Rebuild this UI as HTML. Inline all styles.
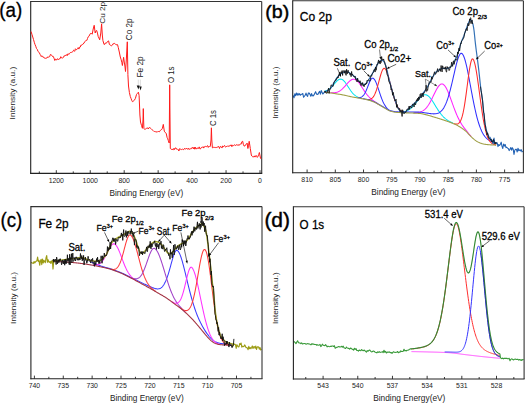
<!DOCTYPE html>
<html><head><meta charset="utf-8"><style>
html,body{margin:0;padding:0;background:#fff;}
body{width:525px;height:403px;overflow:hidden;}
svg{display:block;font-family:"Liberation Sans",sans-serif;}
</style></head><body>
<svg width="525" height="403" viewBox="0 0 525 403">
<rect width="525" height="403" fill="#fff"/>
<line x1="30.7" y1="1.5" x2="261.7" y2="1.5" stroke="#333" stroke-width="1.1" stroke-linecap="butt"/>
<line x1="261.7" y1="1.5" x2="261.7" y2="173.4" stroke="#333" stroke-width="1.1" stroke-linecap="butt"/>
<line x1="30.7" y1="1" x2="30.7" y2="173.9" stroke="#222" stroke-width="1.1" stroke-linecap="butt"/>
<line x1="30.2" y1="173.4" x2="262.2" y2="173.4" stroke="#222" stroke-width="1.1" stroke-linecap="butt"/>
<line x1="260" y1="173.4" x2="260" y2="170.2" stroke="#222" stroke-width="0.9" stroke-linecap="butt"/>
<line x1="226.05" y1="173.4" x2="226.05" y2="170.2" stroke="#222" stroke-width="0.9" stroke-linecap="butt"/>
<line x1="192.1" y1="173.4" x2="192.1" y2="170.2" stroke="#222" stroke-width="0.9" stroke-linecap="butt"/>
<line x1="158.15" y1="173.4" x2="158.15" y2="170.2" stroke="#222" stroke-width="0.9" stroke-linecap="butt"/>
<line x1="124.2" y1="173.4" x2="124.2" y2="170.2" stroke="#222" stroke-width="0.9" stroke-linecap="butt"/>
<line x1="90.25" y1="173.4" x2="90.25" y2="170.2" stroke="#222" stroke-width="0.9" stroke-linecap="butt"/>
<line x1="56.3" y1="173.4" x2="56.3" y2="170.2" stroke="#222" stroke-width="0.9" stroke-linecap="butt"/>
<line x1="243.03" y1="173.4" x2="243.03" y2="171.4" stroke="#222" stroke-width="0.9" stroke-linecap="butt"/>
<line x1="209.07" y1="173.4" x2="209.07" y2="171.4" stroke="#222" stroke-width="0.9" stroke-linecap="butt"/>
<line x1="175.12" y1="173.4" x2="175.12" y2="171.4" stroke="#222" stroke-width="0.9" stroke-linecap="butt"/>
<line x1="141.18" y1="173.4" x2="141.18" y2="171.4" stroke="#222" stroke-width="0.9" stroke-linecap="butt"/>
<line x1="107.22" y1="173.4" x2="107.22" y2="171.4" stroke="#222" stroke-width="0.9" stroke-linecap="butt"/>
<line x1="73.27" y1="173.4" x2="73.27" y2="171.4" stroke="#222" stroke-width="0.9" stroke-linecap="butt"/>
<line x1="39.32" y1="173.4" x2="39.32" y2="171.4" stroke="#222" stroke-width="0.9" stroke-linecap="butt"/>
<text x="260" y="182.7" font-size="6.9" text-anchor="middle" fill="#222">0</text>
<text x="226.05" y="182.7" font-size="6.9" text-anchor="middle" fill="#222">200</text>
<text x="192.1" y="182.7" font-size="6.9" text-anchor="middle" fill="#222">400</text>
<text x="158.15" y="182.7" font-size="6.9" text-anchor="middle" fill="#222">600</text>
<text x="124.2" y="182.7" font-size="6.9" text-anchor="middle" fill="#222">800</text>
<text x="90.25" y="182.7" font-size="6.9" text-anchor="middle" fill="#222">1000</text>
<text x="56.3" y="182.7" font-size="6.9" text-anchor="middle" fill="#222">1200</text>
<text x="109.4" y="195.8" font-size="9.2" textLength="73.8" lengthAdjust="spacingAndGlyphs" fill="#222">Binding Energy (eV)</text>
<text transform="translate(14.9,119.4) rotate(-90)" font-size="7.8" textLength="52.6" lengthAdjust="spacingAndGlyphs" fill="#222">Intensity (a.u.)</text>
<text x="-0.7" y="17.1" font-size="19.7" stroke="#000" stroke-width="0.3" textLength="23" lengthAdjust="spacingAndGlyphs" fill="#000">(a)</text>
<path d="M31,31.5 L32,34.5 L32.75,37 L33.5,39.5 L34.25,42.22 L35,44.5 L35.75,46.29 L36.5,48.5 L37.25,49.33 L38,51.5 L38.67,52.09 L39.33,52.62 L40,54.3 L40.62,54.97 L41.25,56.56 L41.88,55.81 L42.5,56.8 L43.3,56.77 L44.1,58.03 L44.9,58.1 L45.6,58.33 L46.3,58.11 L47,58 L47.67,56.9 L48.33,57.18 L49,56.8 L49.7,56.65 L50.4,54.46 L51.1,54.8 L51.8,55.31 L52.5,56.5 L53.27,56.41 L54.03,58.2 L54.8,60.5 L55.53,58.89 L56.27,59.86 L57,59.8 L57.6,58.65 L58.2,59.6 L58.8,59.32 L59.4,58.86 L60,58.8 L60.77,56.68 L61.53,57.93 L62.3,58.1 L62.92,57.65 L63.53,57.35 L64.15,55.7 L64.77,56.08 L65.38,55.28 L66,55.6 L66.62,54.61 L67.23,55.63 L67.85,53.84 L68.47,54.04 L69.08,54.35 L69.7,53.3 L70.36,52.5 L71.02,52.5 L71.68,52.3 L72.34,51.91 L73,51.5 L73.6,50.18 L74.2,50.76 L74.8,51.32 L75.4,48.74 L76,49.5 L76.72,49.66 L77.44,48.63 L78.16,47.58 L78.88,49.08 L79.6,47.1 L80.32,47.02 L81.05,44.9 L81.78,45.21 L82.5,44.5 L83.12,44.18 L83.75,42.86 L84.38,42.76 L85,41.5 L85.62,40.7 L86.25,40.5 L86.88,40.33 L87.5,38.5 L88.2,36.83 L88.9,36.32 L89.6,35 L90.3,33.65 L91,33 L91.6,33.7 L92.2,34.2 L93.2,29 L94.2,25.3 L95.2,33 L95.95,30.86 L96.7,30.5 L97.45,33.07 L98.2,36.5 L98.95,38 L99.7,39.8 L100.8,33 L101.6,23.8 L102.3,35 L102.9,40.5 L104.1,44.5 L104.7,44.42 L105.3,43 L106.4,43.2 L107.5,41.5 L108.6,40.9 L109.4,44.5 L110.5,45 L111.4,45.96 L112.3,45.2 L113.15,43.61 L114,44 L114.65,43.35 L115.3,43.9 L116.05,44.79 L116.8,44.7 L117.55,44.66 L118.3,47.6 L119.3,52 L120.3,57 L121.2,59.8 L121.8,62.3 L122.4,65.5 L123.6,57.3 L124.4,63 L124.9,66 L125.5,71.5 L126.3,60 L127.3,41.8 L127.9,74.7 L128.5,86 L129.4,92.5 L130.3,96.5 L131,98.33 L131.7,100.3 L132.45,101.69 L133.2,101.2 L134.3,100.3 L135.4,98.4 L136.5,94.5 L137.3,93.5 L138.4,92.2 L139.1,95.5 L139.5,105 L139.9,115 L140.5,122 L141.5,125.5 L142.4,128.3 L143,120 L143.3,108.6 L143.6,120 L143.9,128.3 L144.55,129.32 L145.2,129.3 L145.8,128.72 L146.4,128.36 L147,128.3 L147.67,127.88 L148.33,128.98 L149,127.6 L149.67,127.61 L150.33,128.04 L151,128.6 L151.75,129.56 L152.5,130 L153.15,130.56 L153.8,131.3 L154.55,131.5 L155.3,132 L156,131.31 L156.7,132.3 L157.3,132.02 L157.9,131.43 L158.5,131.5 L159.17,131.97 L159.83,131.19 L160.5,130.3 L161.13,129.62 L161.77,129.47 L162.4,128.3 L163.3,124.4 L164.3,131.2 L165.2,132.5 L166.2,133.3 L167.1,137.5 L167.7,138.75 L168.3,140.5 L169.2,143 L169.7,84.8 L170.3,148.5 L171.5,149.2 L172.11,150.01 L172.72,149.24 L173.33,149.7 L173.94,148.31 L174.55,149.56 L175.16,148.05 L175.77,147.81 L176.38,149.13 L176.99,148.71 L177.6,149.4 L178.23,149.5 L178.87,151.03 L179.5,148.7 L180.13,148.83 L180.77,149.42 L181.4,149.61 L182.03,149.08 L182.67,149.03 L183.3,149.69 L183.93,149.52 L184.57,148.33 L185.2,149.02 L185.83,149.08 L186.47,148.24 L187.1,149 L187.74,149.16 L188.38,148.29 L189.02,149.63 L189.66,149.01 L190.3,148.9 L190.94,148.36 L191.58,148.68 L192.22,147.24 L192.86,147.85 L193.5,148.94 L194.14,147.04 L194.78,149.23 L195.42,147.26 L196.06,149.1 L196.7,148.5 L197.33,147.75 L197.97,148.86 L198.6,148.26 L199.23,146.89 L199.87,148.87 L200.5,148.9 L201.13,147.66 L201.77,147.39 L202.4,147.36 L203.03,146.64 L203.67,148.08 L204.3,146.73 L204.93,146.99 L205.57,146.32 L206.2,146.8 L206.88,146.23 L207.57,145.64 L208.25,147.44 L208.93,146.28 L209.62,147.02 L210.3,146.2 L211,140 L211.4,127.8 L211.8,140 L212.4,147.8 L213.06,147.77 L213.72,147.2 L214.38,147.43 L215.04,147.22 L215.7,147.6 L216.33,147.55 L216.97,147.2 L217.6,147.2 L218.23,146.33 L218.87,146.69 L219.5,148.48 L220.13,146.68 L220.77,146.33 L221.4,147.31 L222.03,148.06 L222.67,145.85 L223.3,146.72 L223.93,146.35 L224.57,145.44 L225.2,146.7 L225.8,147.16 L226.4,146.51 L227,146.49 L227.6,145.79 L228.2,146.6 L228.8,145.77 L229.4,145.98 L230,146 L230.62,145.07 L231.24,144.89 L231.86,146.7 L232.49,145.22 L233.11,145.72 L233.73,145.37 L234.35,144.97 L234.97,144.82 L235.59,145.57 L236.21,144.77 L236.84,144.79 L237.46,144.82 L238.08,145.58 L238.7,144.6 L239.3,145.01 L239.9,144.69 L240.5,143.88 L241.1,144.2 L241.9,141.71 L242.7,141.3 L243.3,144.26 L243.9,145.8 L244.6,146.16 L245.3,144.96 L246,144.7 L247.1,143.1 L247.9,148.5 L248.55,145.31 L249.2,141.3 L250.3,148.5 L251.3,155 L251.93,156.12 L252.57,156.69 L253.2,156.6 L253.8,157.09 L254.4,155.86 L255,157.14 L255.6,155.8 L256.45,155.67 L257.3,157.4 L258,156.41 L258.7,154.5 L259.4,152.5 L260.5,158.2 L261.3,159" fill="none" stroke="#ff1a1a" stroke-width="1.0" stroke-linejoin="round"/>
<text transform="translate(104.9,23.8) rotate(-90)" font-size="7.8" textLength="22" lengthAdjust="spacingAndGlyphs" fill="#222">Cu 2p</text>
<text transform="translate(131.8,40.2) rotate(-90)" font-size="9" textLength="21.6" lengthAdjust="spacingAndGlyphs" fill="#222">Co 2p</text>
<text transform="translate(142.7,77.5) rotate(-90)" font-size="8.6" textLength="21.2" lengthAdjust="spacingAndGlyphs" fill="#222">Fe 2p</text>
<text transform="translate(174,83.1) rotate(-90)" font-size="8.8" textLength="16.6" lengthAdjust="spacingAndGlyphs" fill="#222">O 1s</text>
<text transform="translate(215.9,126.1) rotate(-90)" font-size="9" textLength="16" lengthAdjust="spacingAndGlyphs" fill="#222">C 1s</text>
<line x1="138.3" y1="79.6" x2="138.3" y2="86" stroke="#bbb" stroke-width="0.5" stroke-linecap="butt"/>
<line x1="140.4" y1="79.6" x2="140.4" y2="86.8" stroke="#bbb" stroke-width="0.5" stroke-linecap="butt"/>
<path d="M136.7,85.5 L139.6,85.5 L138.4,89.6 Z M139.2,86.4 L141.7,86.4 L140.6,90.4 Z" fill="#111"/>
<path d="M324.6,91.07 L325.1,90.98 L325.6,90.86 L326.1,90.71 L326.6,90.54 L327.1,90.34 L327.6,90.11 L328.1,89.84 L328.6,89.54 L329.1,89.2 L329.6,88.83 L330.1,88.42 L330.6,87.98 L331.1,87.51 L331.6,87.01 L332.1,86.48 L332.6,85.92 L333.1,85.35 L333.6,84.77 L334.1,84.18 L334.6,83.59 L335.1,83 L335.6,82.43 L336.1,81.88 L336.6,81.36 L337.1,80.87 L337.6,80.44 L338.1,80.05 L338.6,79.73 L339.1,79.47 L339.6,79.28 L340.1,79.17 L340.6,79.13 L341.1,79.18 L341.6,79.3 L342.1,79.51 L342.6,79.8 L343.1,80.16 L343.6,80.6 L344.1,81.1 L344.6,81.67 L345.1,82.29 L345.6,82.96 L346.1,83.68 L346.6,84.42 L347.1,85.18 L347.6,85.96 L348.1,86.75 L348.6,87.54 L349.1,88.31 L349.6,89.08 L350.1,89.82 L350.6,90.54 L351.1,91.22 L351.6,91.88 L352.1,92.5 L352.6,93.07 L353.1,93.62 L353.6,94.12 L354.1,94.59 L354.6,95.02 L355.1,95.41 L355.6,95.78 L356.1,96.11 L356.6,96.41 L357.1,96.69 L357.6,96.94 L358.1,97.18 L358.6,97.39 L359.1,97.59 L359.6,97.77 L360.1,97.95 L360.6,98.11 L361.1,98.26" fill="none" stroke="#00e4f0" stroke-width="1.05" stroke-linejoin="round"/>
<path d="M330.6,92.7 L331.1,92.74 L331.6,92.76 L332.1,92.78 L332.6,92.79 L333.1,92.78 L333.6,92.77 L334.1,92.73 L334.6,92.69 L335.1,92.62 L335.6,92.54 L336.1,92.43 L336.6,92.31 L337.1,92.16 L337.6,91.98 L338.1,91.78 L338.6,91.55 L339.1,91.29 L339.6,91 L340.1,90.69 L340.6,90.34 L341.1,89.96 L341.6,89.56 L342.1,89.12 L342.6,88.66 L343.1,88.17 L343.6,87.66 L344.1,87.13 L344.6,86.59 L345.1,86.03 L345.6,85.47 L346.1,84.9 L346.6,84.32 L347.1,83.76 L347.6,83.2 L348.1,82.66 L348.6,82.13 L349.1,81.64 L349.6,81.17 L350.1,80.74 L350.6,80.35 L351.1,80.02 L351.6,79.73 L352.1,79.49 L352.6,79.32 L353.1,79.21 L353.6,79.17 L354.1,79.19 L354.6,79.28 L355.1,79.45 L355.6,79.68 L356.1,79.98 L356.6,80.34 L357.1,80.77 L357.6,81.26 L358.1,81.8 L358.6,82.39 L359.1,83.03 L359.6,83.71 L360.1,84.42 L360.6,85.16 L361.1,85.91 L361.6,86.69 L362.1,87.47 L362.6,88.26 L363.1,89.04 L363.6,89.82 L364.1,90.59 L364.6,91.34 L365.1,92.07 L365.6,92.78 L366.1,93.47 L366.6,94.13 L367.1,94.76 L367.6,95.36 L368.1,95.94 L368.6,96.49 L369.1,97.01 L369.6,97.51 L370.1,97.99 L370.6,98.44 L371.1,98.88 L371.6,99.31 L372.1,99.72 L372.6,100.12 L373.1,100.51 L373.6,100.88 L374.1,101.25 L374.6,101.6 L375.1,101.94 L375.6,102.28 L376.1,102.63 L376.6,102.98 L377.1,103.33 L377.6,103.67 L378.1,104.02" fill="none" stroke="#ff22ff" stroke-width="1.05" stroke-linejoin="round"/>
<path d="M357.6,97.68 L358.1,97.7 L358.6,97.69 L359.1,97.66 L359.6,97.6 L360.1,97.51 L360.6,97.37 L361.1,97.18 L361.6,96.92 L362.1,96.6 L362.6,96.19 L363.1,95.71 L363.6,95.12 L364.1,94.44 L364.6,93.66 L365.1,92.78 L365.6,91.8 L366.1,90.72 L366.6,89.56 L367.1,88.34 L367.6,87.07 L368.1,85.78 L368.6,84.49 L369.1,83.24 L369.6,82.06 L370.1,80.98 L370.6,80.03 L371.1,79.25 L371.6,78.67 L372.1,78.29 L372.6,78.15 L373.1,78.24 L373.6,78.55 L374.1,79.03 L374.6,79.69 L375.1,80.51 L375.6,81.49 L376.1,82.62 L376.6,83.87 L377.1,85.22 L377.6,86.66 L378.1,88.14 L378.6,89.66 L379.1,91.18 L379.6,92.69 L380.1,94.18 L380.6,95.63 L381.1,97.04 L381.6,98.38 L382.1,99.65 L382.6,100.85 L383.1,101.97 L383.6,103 L384.1,103.96 L384.6,104.83 L385.1,105.64 L385.6,106.4 L386.1,107.09 L386.6,107.73 L387.1,108.32 L387.6,108.85 L388.1,109.32 L388.6,109.74 L389.1,110.11 L389.6,110.43 L390.1,110.69 L390.6,110.92" fill="none" stroke="#3030ff" stroke-width="1.05" stroke-linejoin="round"/>
<path d="M366.6,99.46 L367.1,99.5 L367.6,99.54 L368.1,99.55 L368.6,99.53 L369.1,99.49 L369.6,99.41 L370.1,99.28 L370.6,99.11 L371.1,98.87 L371.6,98.57 L372.1,98.18 L372.6,97.7 L373.1,97.12 L373.6,96.42 L374.1,95.59 L374.6,94.64 L375.1,93.54 L375.6,92.31 L376.1,90.96 L376.6,89.49 L377.1,87.9 L377.6,86.21 L378.1,84.43 L378.6,82.59 L379.1,80.72 L379.6,78.84 L380.1,77 L380.6,75.25 L381.1,73.61 L381.6,72.14 L382.1,70.86 L382.6,69.81 L383.1,69.03 L383.6,68.53 L384.1,68.34 L384.6,68.46 L385.1,68.86 L385.6,69.49 L386.1,70.35 L386.6,71.42 L387.1,72.68 L387.6,74.11 L388.1,75.68 L388.6,77.38 L389.1,79.18 L389.6,81.04 L390.1,82.94 L390.6,84.88 L391.1,86.83 L391.6,88.78 L392.1,90.71 L392.6,92.6 L393.1,94.43 L393.6,96.19 L394.1,97.86 L394.6,99.44 L395.1,100.91 L395.6,102.28 L396.1,103.53 L396.6,104.68 L397.1,105.72 L397.6,106.66 L398.1,107.51 L398.6,108.26 L399.1,108.93 L399.6,109.52 L400.1,110.03 L400.6,110.48 L401.1,110.86 L401.6,111.2 L402.1,111.48 L402.6,111.73 L403.1,111.93 L403.6,112.11 L404.1,112.25 L404.6,112.37 L405.1,112.48 L405.6,112.56 L406.1,112.63" fill="none" stroke="#ff2a2a" stroke-width="1.05" stroke-linejoin="round"/>
<path d="M399.1,112.32 L399.6,112.31 L400.1,112.29 L400.6,112.26 L401.1,112.22 L401.6,112.18 L402.1,112.12 L402.6,112.05 L403.1,111.97 L403.6,111.88 L404.1,111.77 L404.6,111.64 L405.1,111.5 L405.6,111.33 L406.1,111.15 L406.6,110.95 L407.1,110.72 L407.6,110.47 L408.1,110.2 L408.6,109.9 L409.1,109.58 L409.6,109.24 L410.1,108.86 L410.6,108.46 L411.1,108.04 L411.6,107.59 L412.1,107.11 L412.6,106.6 L413.1,106.07 L413.6,105.52 L414.1,104.94 L414.6,104.35 L415.1,103.74 L415.6,103.12 L416.1,102.49 L416.6,101.85 L417.1,101.21 L417.6,100.57 L418.1,99.94 L418.6,99.32 L419.1,98.71 L419.6,98.13 L420.1,97.57 L420.6,97.05 L421.1,96.58 L421.6,96.15 L422.1,95.78 L422.6,95.46 L423.1,95.2 L423.6,94.99 L424.1,94.84 L424.6,94.76 L425.1,94.74 L425.6,94.77 L426.1,94.87 L426.6,95.03 L427.1,95.25 L427.6,95.53 L428.1,95.87 L428.6,96.27 L429.1,96.73 L429.6,97.25 L430.1,97.81 L430.6,98.43 L431.1,99.09 L431.6,99.78 L432.1,100.51 L432.6,101.27 L433.1,102.05 L433.6,102.84 L434.1,103.65 L434.6,104.47 L435.1,105.3 L435.6,106.12 L436.1,106.93 L436.6,107.74 L437.1,108.54 L437.6,109.33 L438.1,110.1 L438.6,110.85 L439.1,111.57 L439.6,112.28 L440.1,112.96 L440.6,113.62 L441.1,114.25 L441.6,114.85 L442.1,115.43 L442.6,115.99 L443.1,116.51 L443.6,117.02 L444.1,117.5 L444.6,117.95 L445.1,118.39 L445.6,118.8 L446.1,119.19 L446.6,119.56 L447.1,119.92 L447.6,120.25 L448.1,120.57 L448.6,120.88 L449.1,121.17 L449.6,121.46 L450.1,121.73 L450.6,122 L451.1,122.26 L451.6,122.51 L452.1,122.76 L452.6,123.01 L453.1,123.25" fill="none" stroke="#00e4f0" stroke-width="1.05" stroke-linejoin="round"/>
<path d="M414.1,112.89 L414.6,112.87 L415.1,112.84 L415.6,112.8 L416.1,112.76 L416.6,112.7 L417.1,112.64 L417.6,112.56 L418.1,112.47 L418.6,112.37 L419.1,112.24 L419.6,112.1 L420.1,111.94 L420.6,111.77 L421.1,111.58 L421.6,111.37 L422.1,111.14 L422.6,110.89 L423.1,110.61 L423.6,110.3 L424.1,109.95 L424.6,109.56 L425.1,109.13 L425.6,108.66 L426.1,108.13 L426.6,107.56 L427.1,106.94 L427.6,106.27 L428.1,105.55 L428.6,104.79 L429.1,103.99 L429.6,103.15 L430.1,102.27 L430.6,101.35 L431.1,100.4 L431.6,99.42 L432.1,98.41 L432.6,97.39 L433.1,96.35 L433.6,95.31 L434.1,94.27 L434.6,93.23 L435.1,92.21 L435.6,91.21 L436.1,90.24 L436.6,89.31 L437.1,88.44 L437.6,87.62 L438.1,86.86 L438.6,86.18 L439.1,85.58 L439.6,85.07 L440.1,84.65 L440.6,84.32 L441.1,84.1 L441.6,83.99 L442.1,83.99 L442.6,84.1 L443.1,84.31 L443.6,84.64 L444.1,85.08 L444.6,85.63 L445.1,86.28 L445.6,87.03 L446.1,87.87 L446.6,88.8 L447.1,89.81 L447.6,90.89 L448.1,92.04 L448.6,93.24 L449.1,94.5 L449.6,95.8 L450.1,97.14 L450.6,98.5 L451.1,99.88 L451.6,101.27 L452.1,102.67 L452.6,104.06 L453.1,105.44 L453.6,106.81 L454.1,108.16 L454.6,109.48 L455.1,110.77 L455.6,112.03 L456.1,113.26 L456.6,114.45 L457.1,115.6 L457.6,116.72 L458.1,117.79 L458.6,118.83 L459.1,119.82 L459.6,120.77 L460.1,121.68 L460.6,122.55 L461.1,123.38 L461.6,124.18 L462.1,124.95 L462.6,125.69 L463.1,126.4 L463.6,127.08 L464.1,127.75 L464.6,128.4 L465.1,129.03 L465.6,129.65 L466.1,130.27 L466.6,130.91 L467.1,131.56 L467.6,132.21 L468.1,132.86 L468.6,133.5 L469.1,134.12 L469.6,134.71 L470.1,135.26 L470.6,135.8 L471.1,136.34" fill="none" stroke="#ff22ff" stroke-width="1.05" stroke-linejoin="round"/>
<path d="M362.6,98.55 L363.1,98.65 L363.6,98.75 L364.1,98.85 L364.6,98.95 L365.1,99.06 L365.6,99.17 L366.1,99.28 L366.6,99.38 L367.1,99.49 L367.6,99.61 L368.1,99.72 L368.6,99.85 L369.1,99.97 L369.6,100.11 L370.1,100.25 L370.6,100.4 L371.1,100.57 L371.6,100.74 L372.1,100.93 L372.6,101.13 L373.1,101.33 L373.6,101.55 L374.1,101.77 L374.6,101.99 L375.1,102.22 L375.6,102.47 L376.1,102.73 L376.6,103.01 L377.1,103.3 L377.6,103.59 L378.1,103.88 L378.6,104.18 L379.1,104.47 L379.6,104.76 L380.1,105.05 L380.6,105.34 L381.1,105.63 L381.6,105.92 L382.1,106.22 L382.6,106.51 L383.1,106.8 L383.6,107.09 L384.1,107.37 L384.6,107.65 L385.1,107.94 L385.6,108.23 L386.1,108.53 L386.6,108.83 L387.1,109.12 L387.6,109.41 L388.1,109.68 L388.6,109.93 L389.1,110.16 L389.6,110.36 L390.1,110.53 L390.6,110.68 L391.1,110.82 L391.6,110.95 L392.1,111.08 L392.6,111.2 L393.1,111.31 L393.6,111.41 L394.1,111.5 L394.6,111.58 L395.1,111.65 L395.6,111.71 L396.1,111.75 L396.6,111.79 L397.1,111.83 L397.6,111.86 L398.1,111.88 L398.6,111.91 L399.1,111.93 L399.6,111.95 L400.1,111.97 L400.6,111.98 L401.1,112 L401.6,112.01 L402.1,112.02 L402.6,112.03 L403.1,112.04 L403.6,112.05 L404.1,112.06 L404.6,112.06 L405.1,112.07 L405.6,112.07 L406.1,112.07 L406.6,112.07 L407.1,112.07 L407.6,112.07 L408.1,112.07 L408.6,112.08 L409.1,112.08 L409.6,112.08 L410.1,112.08 L410.6,112.08 L411.1,112.09 L411.6,112.09 L412.1,112.09 L412.6,112.09 L413.1,112.1 L413.6,112.1 L414.1,112.1 L414.6,112.1 L415.1,112.1 L415.6,112.1 L416.1,112.11 L416.6,112.11 L417.1,112.12 L417.6,112.12 L418.1,112.13 L418.6,112.14 L419.1,112.15 L419.6,112.16 L420.1,112.18 L420.6,112.2 L421.1,112.24 L421.6,112.29 L422.1,112.35 L422.6,112.41 L423.1,112.49 L423.6,112.57 L424.1,112.65 L424.6,112.73 L425.1,112.82 L425.6,112.9 L426.1,112.98 L426.6,113.06 L427.1,113.13 L427.6,113.2 L428.1,113.27 L428.6,113.34 L429.1,113.41 L429.6,113.48 L430.1,113.55 L430.6,113.61 L431.1,113.67 L431.6,113.73 L432.1,113.77 L432.6,113.81 L433.1,113.84 L433.6,113.86 L434.1,113.86 L434.6,113.85 L435.1,113.82 L435.6,113.76 L436.1,113.69 L436.6,113.6 L437.1,113.48 L437.6,113.33 L438.1,113.15 L438.6,112.93 L439.1,112.68 L439.6,112.38 L440.1,112.04 L440.6,111.66 L441.1,111.22 L441.6,110.72 L442.1,110.17 L442.6,109.55 L443.1,108.86 L443.6,108.11 L444.1,107.27 L444.6,106.36 L445.1,105.37 L445.6,104.3 L446.1,103.13 L446.6,101.88 L447.1,100.53 L447.6,99.09 L448.1,97.57 L448.6,95.95 L449.1,94.25 L449.6,92.47 L450.1,90.61 L450.6,88.67 L451.1,86.67 L451.6,84.61 L452.1,82.5 L452.6,80.35 L453.1,78.18 L453.6,75.98 L454.1,73.79 L454.6,71.61 L455.1,69.46 L455.6,67.36 L456.1,65.33 L456.6,63.39 L457.1,61.56 L457.6,59.86 L458.1,58.31 L458.6,56.94 L459.1,55.76 L459.6,54.79 L460.1,54.06 L460.6,53.56 L461.1,53.33 L461.6,53.37 L462.1,53.68 L462.6,54.22 L463.1,55 L463.6,55.99 L464.1,57.21 L464.6,58.63 L465.1,60.24 L465.6,62.04 L466.1,64.01 L466.6,66.16 L467.1,68.45 L467.6,70.88 L468.1,73.4 L468.6,75.99 L469.1,78.64 L469.6,81.31 L470.1,83.98 L470.6,86.67 L471.1,89.36 L471.6,92.05 L472.1,94.71 L472.6,97.33 L473.1,99.91 L473.6,102.42 L474.1,104.87 L474.6,107.23 L475.1,109.5 L475.6,111.69 L476.1,113.8 L476.6,115.83 L477.1,117.76 L477.6,119.6 L478.1,121.35 L478.6,122.99 L479.1,124.53 L479.6,125.97 L480.1,127.34 L480.6,128.63 L481.1,129.83 L481.6,130.95 L482.1,132 L482.6,132.97 L483.1,133.86 L483.6,134.68 L484.1,135.43 L484.6,136.11 L485.1,136.74 L485.6,137.33 L486.1,137.86 L486.6,138.35 L487.1,138.8 L487.6,139.22 L488.1,139.59 L488.6,139.94 L489.1,140.25 L489.6,140.54 L490.1,140.8 L490.6,141.04 L491.1,141.27 L491.6,141.47 L492.1,141.66 L492.6,141.83 L493.1,141.99 L493.6,142.14 L494.1,142.28 L494.6,142.4 L495.1,142.51 L495.6,142.62 L496.1,142.71" fill="none" stroke="#3030ff" stroke-width="1.05" stroke-linejoin="round"/>
<path d="M454.1,123.66 L454.6,123.79 L455.1,123.91 L455.6,124 L456.1,124.05 L456.6,124.06 L457.1,124.02 L457.6,123.9 L458.1,123.7 L458.6,123.4 L459.1,122.97 L459.6,122.4 L460.1,121.67 L460.6,120.75 L461.1,119.62 L461.6,118.26 L462.1,116.66 L462.6,114.79 L463.1,112.66 L463.6,110.24 L464.1,107.55 L464.6,104.58 L465.1,101.37 L465.6,97.93 L466.1,94.32 L466.6,90.58 L467.1,86.77 L467.6,82.95 L468.1,79.17 L468.6,75.5 L469.1,72.01 L469.6,68.78 L470.1,65.87 L470.6,63.38 L471.1,61.39 L471.6,59.94 L472.1,59.09 L472.6,58.86 L473.1,59.24 L473.6,60.07 L474.1,61.3 L474.6,62.92 L475.1,64.89 L475.6,67.22 L476.1,69.87 L476.6,72.81 L477.1,75.99 L477.6,79.37 L478.1,82.9 L478.6,86.54 L479.1,90.25 L479.6,93.98 L480.1,97.72 L480.6,101.41 L481.1,105.04 L481.6,108.55 L482.1,111.94 L482.6,115.16 L483.1,118.22 L483.6,121.08 L484.1,123.73 L484.6,126.19 L485.1,128.46 L485.6,130.53 L486.1,132.4 L486.6,134.1 L487.1,135.61 L487.6,136.96 L488.1,138.15 L488.6,139.2 L489.1,140.11 L489.6,140.9 L490.1,141.59 L490.6,142.18 L491.1,142.68 L491.6,143.11 L492.1,143.47 L492.6,143.78 L493.1,144.04 L493.6,144.25 L494.1,144.43 L494.6,144.58 L495.1,144.69 L495.6,144.79 L496.1,144.87" fill="none" stroke="#ff2a2a" stroke-width="1.05" stroke-linejoin="round"/>
<path d="M324.6,92 L325.1,92.08 L325.6,92.15 L326.1,92.23 L326.6,92.3 L327.1,92.38 L327.6,92.46 L328.1,92.54 L328.6,92.61 L329.1,92.69 L329.6,92.77 L330.1,92.85 L330.6,92.92 L331.1,93 L331.6,93.08 L332.1,93.16 L332.6,93.24 L333.1,93.32 L333.6,93.39 L334.1,93.47 L334.6,93.55 L335.1,93.63 L335.6,93.7 L336.1,93.78 L336.6,93.86 L337.1,93.93 L337.6,94.01 L338.1,94.09 L338.6,94.17 L339.1,94.25 L339.6,94.33 L340.1,94.41 L340.6,94.49 L341.1,94.58 L341.6,94.66 L342.1,94.75 L342.6,94.84 L343.1,94.94 L343.6,95.04 L344.1,95.14 L344.6,95.24 L345.1,95.35 L345.6,95.46 L346.1,95.58 L346.6,95.69 L347.1,95.81 L347.6,95.93 L348.1,96.04 L348.6,96.16 L349.1,96.28 L349.6,96.39 L350.1,96.5 L350.6,96.61 L351.1,96.72 L351.6,96.82 L352.1,96.92 L352.6,97.01 L353.1,97.11 L353.6,97.2 L354.1,97.28 L354.6,97.37 L355.1,97.46 L355.6,97.54 L356.1,97.62 L356.6,97.71 L357.1,97.79 L357.6,97.87 L358.1,97.96 L358.6,98.05 L359.1,98.14 L359.6,98.23 L360.1,98.32 L360.6,98.41 L361.1,98.51 L361.6,98.6 L362.1,98.7 L362.6,98.8 L363.1,98.9 L363.6,99 L364.1,99.11 L364.6,99.21 L365.1,99.32 L365.6,99.43 L366.1,99.54 L366.6,99.65 L367.1,99.76 L367.6,99.88 L368.1,100 L368.6,100.13 L369.1,100.26 L369.6,100.39 L370.1,100.54 L370.6,100.69 L371.1,100.86 L371.6,101.04 L372.1,101.23 L372.6,101.43 L373.1,101.64 L373.6,101.86 L374.1,102.08 L374.6,102.31 L375.1,102.55 L375.6,102.8 L376.1,103.06 L376.6,103.34 L377.1,103.63 L377.6,103.93 L378.1,104.23 L378.6,104.53 L379.1,104.83 L379.6,105.12 L380.1,105.41 L380.6,105.7 L381.1,106 L381.6,106.3 L382.1,106.6 L382.6,106.9 L383.1,107.19 L383.6,107.49 L384.1,107.77 L384.6,108.06 L385.1,108.35 L385.6,108.65 L386.1,108.95 L386.6,109.26 L387.1,109.56 L387.6,109.85 L388.1,110.12 L388.6,110.38 L389.1,110.62 L389.6,110.83 L390.1,111 L390.6,111.15 L391.1,111.3 L391.6,111.44 L392.1,111.58 L392.6,111.7 L393.1,111.82 L393.6,111.93 L394.1,112.03 L394.6,112.11 L395.1,112.19 L395.6,112.26 L396.1,112.31 L396.6,112.36 L397.1,112.4 L397.6,112.44 L398.1,112.48 L398.6,112.51 L399.1,112.54 L399.6,112.57 L400.1,112.6 L400.6,112.62 L401.1,112.64 L401.6,112.67 L402.1,112.69 L402.6,112.71 L403.1,112.73 L403.6,112.75 L404.1,112.77 L404.6,112.79 L405.1,112.81 L405.6,112.82 L406.1,112.84 L406.6,112.85 L407.1,112.87 L407.6,112.88 L408.1,112.9 L408.6,112.91 L409.1,112.93 L409.6,112.95 L410.1,112.96 L410.6,112.98 L411.1,113 L411.6,113.03 L412.1,113.05 L412.6,113.07 L413.1,113.09 L413.6,113.11 L414.1,113.13 L414.6,113.15 L415.1,113.18 L415.6,113.2 L416.1,113.23 L416.6,113.25 L417.1,113.28 L417.6,113.32 L418.1,113.35 L418.6,113.38 L419.1,113.42 L419.6,113.46 L420.1,113.51 L420.6,113.56 L421.1,113.63 L421.6,113.72 L422.1,113.81 L422.6,113.91 L423.1,114.02 L423.6,114.14 L424.1,114.26 L424.6,114.39 L425.1,114.51 L425.6,114.64 L426.1,114.77 L426.6,114.9 L427.1,115.02 L427.6,115.15 L428.1,115.28 L428.6,115.42 L429.1,115.56 L429.6,115.7 L430.1,115.84 L430.6,115.99 L431.1,116.14 L431.6,116.29 L432.1,116.45 L432.6,116.6 L433.1,116.75 L433.6,116.91 L434.1,117.06 L434.6,117.22 L435.1,117.37 L435.6,117.52 L436.1,117.67 L436.6,117.82 L437.1,117.98 L437.6,118.13 L438.1,118.28 L438.6,118.43 L439.1,118.59 L439.6,118.74 L440.1,118.9 L440.6,119.06 L441.1,119.21 L441.6,119.37 L442.1,119.53 L442.6,119.7 L443.1,119.86 L443.6,120.03 L444.1,120.19 L444.6,120.36 L445.1,120.53 L445.6,120.71 L446.1,120.88 L446.6,121.05 L447.1,121.23 L447.6,121.4 L448.1,121.58 L448.6,121.75 L449.1,121.93 L449.6,122.12 L450.1,122.3 L450.6,122.49 L451.1,122.68 L451.6,122.87 L452.1,123.07 L452.6,123.27 L453.1,123.47 L453.6,123.68 L454.1,123.9 L454.6,124.12 L455.1,124.35 L455.6,124.58 L456.1,124.82 L456.6,125.07 L457.1,125.34 L457.6,125.6 L458.1,125.88 L458.6,126.17 L459.1,126.46 L459.6,126.76 L460.1,127.06 L460.6,127.37 L461.1,127.69 L461.6,128.02 L462.1,128.36 L462.6,128.7 L463.1,129.06 L463.6,129.43 L464.1,129.81 L464.6,130.2 L465.1,130.6 L465.6,131.02 L466.1,131.45 L466.6,131.93 L467.1,132.44 L467.6,132.97 L468.1,133.51 L468.6,134.05 L469.1,134.58 L469.6,135.1 L470.1,135.6 L470.6,136.09 L471.1,136.58 L471.6,137.07 L472.1,137.56 L472.6,138.04 L473.1,138.5 L473.6,138.95 L474.1,139.38 L474.6,139.78 L475.1,140.15 L475.6,140.5 L476.1,140.85 L476.6,141.18 L477.1,141.5 L477.6,141.8 L478.1,142.07 L478.6,142.32 L479.1,142.54 L479.6,142.75 L480.1,142.95 L480.6,143.14 L481.1,143.32 L481.6,143.49 L482.1,143.65 L482.6,143.79 L483.1,143.91 L483.6,144.02 L484.1,144.12 L484.6,144.2 L485.1,144.28 L485.6,144.35 L486.1,144.42 L486.6,144.48 L487.1,144.54 L487.6,144.59 L488.1,144.64 L488.6,144.69 L489.1,144.73 L489.6,144.77 L490.1,144.81 L490.6,144.84 L491.1,144.87 L491.6,144.91 L492.1,144.94 L492.6,144.97 L493.1,144.99 L493.6,145.02 L494.1,145.04 L494.6,145.06 L495.1,145.08 L495.6,145.09 L496.1,145.1" fill="none" stroke="#a0a048" stroke-width="1.1" stroke-linejoin="round"/>
<path d="M293.2,95.47 L294,97.79 L294.8,93.83 L295.6,95.8 L296.4,92.95 L297.2,95.19 L298,93.37 L298.8,95.1 L299.6,93.65 L300.4,95.24 L301.2,94.31 L302,94.29 L302.8,93.5 L303.6,97.3 L304.4,96.16 L305.2,95.24 L306,93.13 L306.8,95.31 L307.6,96.36 L308.4,92.99 L309.2,93.16 L310,94.37 L310.8,96.28 L311.6,93.65 L312.4,95.81 L313.2,95.88 L314,94.94 L314.8,93.19 L315.6,91.68 L316.4,93.77 L317.2,94.51 L318,94.27 L318.8,92.5 L319.6,91.33 L320.4,94.1 L321.2,90.59 L322,92.22 L322.8,94.02 L323.6,93.19 L324.4,92.17 L325.2,91.52 L326,91.43 L326.8,91.47" fill="none" stroke="#2262b4" stroke-width="1.1" stroke-linejoin="round"/>
<path d="M490,136.86 L490.8,140.13 L491.6,139.38 L492.4,142.09 L493.2,143.68 L494,137.99 L494.8,143.16 L495.6,142.68 L496.4,143.72 L497.2,142.85 L498,146.58 L498.8,144.54 L499.6,145.48 L500.4,144.25 L501.2,142.19 L502,146.35 L502.8,148.49 L503.6,144 L504.4,146.07 L505.2,144.53 L506,147.61 L506.8,147.3 L507.6,148.13 L508.4,148.74 L509.2,150.58 L510,149.21 L510.8,147.53 L511.6,150.15 L512.4,147.76 L513.2,149.15 L514,154.51 L514.8,150.26 L515.6,149.24 L516.4,149.41 L517.2,152.01 L518,148.2 L518.8,150.72 L519.6,149.86 L520.4,150.86 L521.2,149.61 L522,151.81 L522.8,151.28" fill="none" stroke="#2262b4" stroke-width="1.1" stroke-linejoin="round"/>
<path d="M324.6,92 L325.1,91.78 L325.6,91.54 L326.1,91.29 L326.6,91.02 L327.1,90.74 L327.6,90.46 L328.1,90.18 L328.6,89.89 L329.1,89.56 L329.6,89.2 L330.1,88.78 L330.6,88.28 L331.1,87.62 L331.6,86.84 L332.1,85.97 L332.6,85.07 L333.1,84.18 L333.6,83.34 L334.1,82.48 L334.6,81.58 L335.1,80.67 L335.6,79.78 L336.1,78.94 L336.6,78.17 L337.1,77.5 L337.6,76.91 L338.1,76.34 L338.6,75.81 L339.1,75.32 L339.6,74.86 L340.1,74.44 L340.6,74.07 L341.1,73.74 L341.6,73.42 L342.1,73.09 L342.6,72.78 L343.1,72.49 L343.6,72.24 L344.1,72.03 L344.6,71.88 L345.1,71.81 L345.6,71.81 L346.1,71.85 L346.6,71.91 L347.1,72 L347.6,72.11 L348.1,72.22 L348.6,72.39 L349.1,72.62 L349.6,72.89 L350.1,73.19 L350.6,73.51 L351.1,73.83 L351.6,74.18 L352.1,74.56 L352.6,74.97 L353.1,75.4 L353.6,75.84 L354.1,76.29 L354.6,76.77 L355.1,77.28 L355.6,77.8 L356.1,78.34 L356.6,78.88 L357.1,79.4 L357.6,79.9 L358.1,80.39 L358.6,80.9 L359.1,81.41 L359.6,81.9 L360.1,82.35 L360.6,82.74 L361.1,83.06 L361.6,83.35 L362.1,83.64 L362.6,83.91 L363.1,84.15 L363.6,84.33 L364.1,84.46 L364.6,84.5 L365.1,84.35 L365.6,83.95 L366.1,83.4 L366.6,82.78 L367.1,82.18 L367.6,81.52 L368.1,80.76 L368.6,79.94 L369.1,79.07 L369.6,78.19 L370.1,77.33 L370.6,76.51 L371.1,75.69 L371.6,74.87 L372.1,74.04 L372.6,73.2 L373.1,72.32 L373.6,71.41 L374.1,70.46 L374.6,69.49 L375.1,68.54 L375.6,67.61 L376.1,66.73 L376.6,65.83 L377.1,64.9 L377.6,63.99 L378.1,63.14 L378.6,62.39 L379.1,61.78 L379.6,61.34 L380.1,60.94 L380.6,60.59 L381.1,60.33 L381.6,60.2 L382.1,60.26 L382.6,60.5 L383.1,60.86 L383.6,61.31 L384.1,61.87 L384.6,62.78 L385.1,63.97 L385.6,65.34 L386.1,66.8 L386.6,68.59 L387.1,70.7 L387.6,72.99 L388.1,75.27 L388.6,77.4 L389.1,79.36 L389.6,81.27 L390.1,83.15 L390.6,85.01 L391.1,86.87 L391.6,88.76 L392.1,90.64 L392.6,92.47 L393.1,94.2 L393.6,95.83 L394.1,97.4 L394.6,98.91 L395.1,100.37 L395.6,101.78 L396.1,103.2 L396.6,104.6 L397.1,105.89 L397.6,107.01 L398.1,107.95 L398.6,108.84 L399.1,109.67 L399.6,110.38 L400.1,110.96 L400.6,111.37 L401.1,111.71 L401.6,112.03 L402.1,112.31 L402.6,112.54 L403.1,112.71 L403.6,112.79 L404.1,112.76 L404.6,112.55 L405.1,112.22 L405.6,111.82 L406.1,111.42 L406.6,110.92 L407.1,110.31 L407.6,109.66 L408.1,109.03 L408.6,108.49 L409.1,108 L409.6,107.52 L410.1,107.07 L410.6,106.62 L411.1,106.18 L411.6,105.75 L412.1,105.31 L412.6,104.86 L413.1,104.41 L413.6,103.95 L414.1,103.51 L414.6,103.07 L415.1,102.62 L415.6,102.17 L416.1,101.71 L416.6,101.23 L417.1,100.72 L417.6,100.19 L418.1,99.62 L418.6,99.02 L419.1,98.39 L419.6,97.73 L420.1,97.07 L420.6,96.39 L421.1,95.71 L421.6,95.03 L422.1,94.37 L422.6,93.71 L423.1,93.07 L423.6,92.42 L424.1,91.77 L424.6,91.11 L425.1,90.43 L425.6,89.73 L426.1,89.01 L426.6,88.26 L427.1,87.46 L427.6,86.61 L428.1,85.72 L428.6,84.81 L429.1,83.88 L429.6,82.94 L430.1,82.01 L430.6,81.06 L431.1,80.09 L431.6,79.11 L432.1,78.14 L432.6,77.21 L433.1,76.33 L433.6,75.45 L434.1,74.59 L434.6,73.8 L435.1,73.12 L435.6,72.55 L436.1,72.03 L436.6,71.56 L437.1,71.14 L437.6,70.76 L438.1,70.44 L438.6,70.12 L439.1,69.81 L439.6,69.5 L440.1,69.21 L440.6,68.95 L441.1,68.71 L441.6,68.53 L442.1,68.39 L442.6,68.31 L443.1,68.3 L443.6,68.34 L444.1,68.4 L444.6,68.47 L445.1,68.54 L445.6,68.59 L446.1,68.6 L446.6,68.56 L447.1,68.46 L447.6,68.32 L448.1,68.15 L448.6,67.96 L449.1,67.76 L449.6,67.48 L450.1,67.11 L450.6,66.68 L451.1,66.2 L451.6,65.7 L452.1,65.15 L452.6,64.52 L453.1,63.82 L453.6,63.03 L454.1,62.09 L454.6,61.02 L455.1,59.89 L455.6,58.79 L456.1,57.73 L456.6,56.66 L457.1,55.51 L457.6,54.18 L458.1,52.67 L458.6,51.04 L459.1,49.36 L459.6,47.67 L460.1,45.87 L460.6,44.09 L461.1,42.5 L461.6,41.16 L462.1,39.97 L462.6,38.85 L463.1,37.72 L463.6,36.52 L464.1,35.17 L464.6,33.7 L465.1,32.17 L465.6,30.66 L466.1,29.22 L466.6,27.79 L467.1,26.38 L467.6,25.03 L468.1,23.83 L468.6,22.75 L469.1,21.62 L469.6,20.6 L470.1,19.9 L470.6,19.71 L471.1,20.06 L471.6,20.82 L472.1,21.88 L472.6,23.13 L473.1,24.87 L473.6,27.62 L474.1,31 L474.6,35.71 L475.1,40.71 L475.6,45.08 L476.1,49.2 L476.6,53.04 L477.1,56.74 L477.6,60.61 L478.1,64.57 L478.6,68.66 L479.1,73 L479.6,77.64 L480.1,82.32 L480.6,86.78 L481.1,90.73 L481.6,93.96 L482.1,97.06 L482.6,100.88 L483.1,106.28 L483.6,111.42 L484.1,115.98 L484.6,120.27 L485.1,123.98 L485.6,126.79 L486.1,128.98 L486.6,130.82 L487.1,132.39 L487.6,133.76 L488.1,135 L488.6,136.14 L489.1,137.15 L489.6,138.04 L490.1,138.8 L490.6,139.46 L491.1,140.06 L491.6,140.6 L492.1,141.08 L492.6,141.5 L493.1,141.87 L493.6,142.21 L494.1,142.53 L494.6,142.83 L495.1,143.08 L495.6,143.3 L496.1,143.47" fill="none" stroke="#3371b6" stroke-width="1.2" stroke-linejoin="round"/>
<path d="M324.6,92.56 L325.1,90.91 L325.6,92.42 L326.1,93.27 L326.6,93 L327.1,93.27 L327.6,90.55 L328.1,89.67 L328.6,88.1 L329.1,93.43 L329.6,90.37 L330.1,89.02 L330.6,87.55 L331.1,84.84 L331.6,85.23 L332.1,85.46 L332.6,86.44 L333.1,86.35 L333.6,84.12 L334.1,81.84 L334.6,81.69 L335.1,80.91 L335.6,79.96 L336.1,80.44 L336.6,78.42 L337.1,78.61 L337.6,77.03 L338.1,78.03 L338.6,74.75 L339.1,74.2 L339.6,72.21 L340.1,75.28 L340.6,72.34 L341.1,71.74 L341.6,73.31 L342.1,70.53 L342.6,75.46 L343.1,70.84 L343.6,70.95 L344.1,70.66 L344.6,73.21 L345.1,70.37 L345.6,73.85 L346.1,75.36 L346.6,69.26 L347.1,74.04 L347.6,71.91 L348.1,70.16 L348.6,72.65 L349.1,72.8 L349.6,73.11 L350.1,75.11 L350.6,73.64 L351.1,76.71 L351.6,71.47 L352.1,75.17 L352.6,74.36 L353.1,75.4 L353.6,76.43 L354.1,77.12 L354.6,76.7 L355.1,75.98 L355.6,79.11 L356.1,80.16 L356.6,79.47 L357.1,82.01 L357.6,78.12 L358.1,81 L358.6,81.68 L359.1,81.39 L359.6,82.74 L360.1,80.76 L360.6,84.5 L361.1,85.62 L361.6,83.47 L362.1,84.41 L362.6,82.59 L363.1,86.04 L363.6,84.97 L364.1,86.75 L364.6,84.5 L365.1,83.78 L365.6,84.75 L366.1,83.17 L366.6,83.81 L367.1,80.13 L367.6,80.57 L368.1,79.92 L368.6,79.78 L369.1,80.19 L369.6,81.31 L370.1,80.85 L370.6,77.49 L371.1,75.47 L371.6,76.16 L372.1,74.29 L372.6,73.31 L373.1,72.87 L373.6,71.67 L374.1,69.55 L374.6,69.54 L375.1,72.06 L375.6,67.08 L376.1,70.28 L376.6,67.29 L377.1,64.06 L377.6,64.55 L378.1,61.92 L378.6,59.95 L379.1,63.22 L379.6,61.09 L380.1,64.04 L380.6,60.96 L381.1,62.54 L381.6,56.56 L382.1,59.53 L382.6,59 L383.1,60.21 L383.6,58.94 L384.1,61.05 L384.6,61.79 L385.1,64.23 L385.6,65.2 L386.1,67.98 L386.6,70.02 L387.1,74.8 L387.6,75.05 L388.1,76.19 L388.6,79.95 L389.1,82.28 L389.6,82.37 L390.1,83.99 L390.6,84.89 L391.1,89.86 L391.6,88.63 L392.1,90.43 L392.6,95.24 L393.1,92.25 L393.6,94.62 L394.1,97.8 L394.6,99.64 L395.1,101.04 L395.6,100.11 L396.1,99.2 L396.6,107.37 L397.1,104.44 L397.6,107.22 L398.1,108.36 L398.6,109.04 L399.1,109.5 L399.6,108.44 L400.1,112.14 L400.6,111.41 L401.1,109.81 L401.6,112.44 L402.1,116.47 L402.6,109.77 L403.1,111.04 L403.6,112.73 L404.1,113.74 L404.6,112.98 L405.1,111.71 L405.6,112.51 L406.1,111.47 L406.6,110.27 L407.1,109.08 L407.6,109.15 L408.1,109.27 L408.6,109.67 L409.1,106.11 L409.6,109.37 L410.1,106.01 L410.6,106.72 L411.1,106.74 L411.6,108.09 L412.1,106.73 L412.6,104.27 L413.1,103.91 L413.6,105.37 L414.1,107.02 L414.6,102.79 L415.1,103.9 L415.6,104.85 L416.1,101.41 L416.6,99.72 L417.1,101.21 L417.6,98.27 L418.1,100.92 L418.6,96.9 L419.1,99.57 L419.6,98.31 L420.1,94.2 L420.6,93.65 L421.1,97.88 L421.6,96.41 L422.1,93.07 L422.6,95.03 L423.1,96.96 L423.6,92.91 L424.1,93.28 L424.6,92.34 L425.1,91.11 L425.6,90.18 L426.1,85.16 L426.6,88.25 L427.1,89.2 L427.6,90.43 L428.1,86.95 L428.6,85.23 L429.1,82.53 L429.6,83.18 L430.1,82.55 L430.6,81.71 L431.1,82 L431.6,76.74 L432.1,79.32 L432.6,77.6 L433.1,76.06 L433.6,75.52 L434.1,73.16 L434.6,71.78 L435.1,74 L435.6,74.34 L436.1,72.84 L436.6,72.58 L437.1,70.82 L437.6,68.61 L438.1,72.13 L438.6,71.53 L439.1,70.85 L439.6,68.77 L440.1,69.11 L440.6,71.37 L441.1,65.49 L441.6,68.74 L442.1,71.94 L442.6,65.79 L443.1,67.31 L443.6,68.35 L444.1,69.17 L444.6,67.63 L445.1,68.81 L445.6,66.76 L446.1,71.62 L446.6,72.07 L447.1,66.49 L447.6,68.12 L448.1,67.42 L448.6,68.75 L449.1,70.58 L449.6,70 L450.1,66.58 L450.6,67.52 L451.1,66.56 L451.6,62.19 L452.1,64.54 L452.6,66.37 L453.1,61.93 L453.6,60.78 L454.1,64.38 L454.6,62.13 L455.1,60.56 L455.6,59.01 L456.1,60.23 L456.6,59.77 L457.1,59.83 L457.6,52 L458.1,54.07 L458.6,50.35 L459.1,47.94 L459.6,51.02 L460.1,46.76 L460.6,43.36 L461.1,43.91 L461.6,41 L462.1,40.58 L462.6,40.08 L463.1,38.62 L463.6,38.29 L464.1,36.56 L464.6,33.07 L465.1,32.34 L465.6,30.32 L466.1,29.24 L466.6,28.43 L467.1,30.72 L467.6,26.39 L468.1,23.33 L468.6,25.88 L469.1,24.81 L469.6,18.91 L470.1,20.48 L470.6,21.91 L471.1,23.68 L471.6,21.05 L472.1,19.91 L472.6,24.07" fill="none" stroke="#111" stroke-width="0.85" stroke-linejoin="round"/>
<path d="M480.5,86.58 L481,90.29 L481.5,92.87 L482,97.04 L482.5,100.11 L483,105.9 L483.5,112.24 L484,113.41 L484.5,118.04 L485,124.96 L485.5,125.56 L486,130.95 L486.5,131.08 L487,135.15 L487.5,132.75 L488,134.31 L488.5,138.21 L489,138.15 L489.5,138.35 L490,139.7 L490.5,139.44 L491,138.9 L491.5,141.63 L492,140.57 L492.5,142.05 L493,141.81 L493.5,139.41 L494,140.88 L494.5,143.59 L495,142.83 L495.5,143.86 L496,142.16 L496.5,143.31" fill="none" stroke="#111" stroke-width="0.8" stroke-linejoin="round"/>
<line x1="292.7" y1="0.7" x2="523.4" y2="0.7" stroke="#333" stroke-width="1.1" stroke-linecap="butt"/>
<line x1="523.4" y1="0.7" x2="523.4" y2="172.7" stroke="#333" stroke-width="1.1" stroke-linecap="butt"/>
<line x1="292.7" y1="0.2" x2="292.7" y2="173.2" stroke="#222" stroke-width="1.1" stroke-linecap="butt"/>
<line x1="292.2" y1="172.7" x2="523.9" y2="172.7" stroke="#222" stroke-width="1.1" stroke-linecap="butt"/>
<line x1="504.61" y1="172.7" x2="504.61" y2="169.5" stroke="#222" stroke-width="0.9" stroke-linecap="butt"/>
<line x1="476.39" y1="172.7" x2="476.39" y2="169.5" stroke="#222" stroke-width="0.9" stroke-linecap="butt"/>
<line x1="448.18" y1="172.7" x2="448.18" y2="169.5" stroke="#222" stroke-width="0.9" stroke-linecap="butt"/>
<line x1="419.96" y1="172.7" x2="419.96" y2="169.5" stroke="#222" stroke-width="0.9" stroke-linecap="butt"/>
<line x1="391.75" y1="172.7" x2="391.75" y2="169.5" stroke="#222" stroke-width="0.9" stroke-linecap="butt"/>
<line x1="363.53" y1="172.7" x2="363.53" y2="169.5" stroke="#222" stroke-width="0.9" stroke-linecap="butt"/>
<line x1="335.31" y1="172.7" x2="335.31" y2="169.5" stroke="#222" stroke-width="0.9" stroke-linecap="butt"/>
<line x1="307.1" y1="172.7" x2="307.1" y2="169.5" stroke="#222" stroke-width="0.9" stroke-linecap="butt"/>
<line x1="518.71" y1="172.7" x2="518.71" y2="170.7" stroke="#222" stroke-width="0.9" stroke-linecap="butt"/>
<line x1="490.5" y1="172.7" x2="490.5" y2="170.7" stroke="#222" stroke-width="0.9" stroke-linecap="butt"/>
<line x1="462.28" y1="172.7" x2="462.28" y2="170.7" stroke="#222" stroke-width="0.9" stroke-linecap="butt"/>
<line x1="434.07" y1="172.7" x2="434.07" y2="170.7" stroke="#222" stroke-width="0.9" stroke-linecap="butt"/>
<line x1="405.85" y1="172.7" x2="405.85" y2="170.7" stroke="#222" stroke-width="0.9" stroke-linecap="butt"/>
<line x1="377.64" y1="172.7" x2="377.64" y2="170.7" stroke="#222" stroke-width="0.9" stroke-linecap="butt"/>
<line x1="349.42" y1="172.7" x2="349.42" y2="170.7" stroke="#222" stroke-width="0.9" stroke-linecap="butt"/>
<line x1="321.21" y1="172.7" x2="321.21" y2="170.7" stroke="#222" stroke-width="0.9" stroke-linecap="butt"/>
<text x="504.61" y="182" font-size="6.9" text-anchor="middle" fill="#222">775</text>
<text x="476.39" y="182" font-size="6.9" text-anchor="middle" fill="#222">780</text>
<text x="448.18" y="182" font-size="6.9" text-anchor="middle" fill="#222">785</text>
<text x="419.96" y="182" font-size="6.9" text-anchor="middle" fill="#222">790</text>
<text x="391.75" y="182" font-size="6.9" text-anchor="middle" fill="#222">795</text>
<text x="363.53" y="182" font-size="6.9" text-anchor="middle" fill="#222">800</text>
<text x="335.31" y="182" font-size="6.9" text-anchor="middle" fill="#222">805</text>
<text x="307.1" y="182" font-size="6.9" text-anchor="middle" fill="#222">810</text>
<text x="371.3" y="195.2" font-size="9.2" textLength="74.2" lengthAdjust="spacingAndGlyphs" fill="#222">Binding Energy (eV)</text>
<text transform="translate(277.9,118.6) rotate(-90)" font-size="7.8" textLength="52.2" lengthAdjust="spacingAndGlyphs" fill="#222">Intensity (a.u.)</text>
<text x="265.3" y="17.9" font-size="18.5" stroke="#000" stroke-width="0.4" textLength="24" lengthAdjust="spacingAndGlyphs" fill="#000">(b)</text>
<text x="299.7" y="21.3" font-size="12.5" stroke="#000" stroke-width="0.28" textLength="32.2" lengthAdjust="spacingAndGlyphs" fill="#000">Co 2p</text>
<text x="333.4" y="66.4" font-size="10.7" stroke="#000" stroke-width="0.28" textLength="17" lengthAdjust="spacingAndGlyphs" fill="#000">Sat.</text>
<text x="354.7" y="69.6" font-size="11" stroke="#000" stroke-width="0.28" textLength="11.6" lengthAdjust="spacingAndGlyphs" fill="#000">Co</text>
<text x="366.5" y="65.9" font-size="5" stroke="#000" stroke-width="0.28" textLength="6.2" lengthAdjust="spacingAndGlyphs" fill="#000">3+</text>
<text x="364.3" y="48" font-size="10.2" stroke="#000" stroke-width="0.28" textLength="25.5" lengthAdjust="spacingAndGlyphs" fill="#000">Co 2p</text>
<text x="389.6" y="50.9" font-size="5.6" stroke="#000" stroke-width="0.28" textLength="8.6" lengthAdjust="spacingAndGlyphs" fill="#000">1/2</text>
<text x="387.4" y="62.3" font-size="10.4" stroke="#000" stroke-width="0.28" textLength="24" lengthAdjust="spacingAndGlyphs" fill="#000">Co2+</text>
<text x="414.9" y="76.9" font-size="9.6" stroke="#000" stroke-width="0.28" textLength="16" lengthAdjust="spacingAndGlyphs" fill="#000">Sat.</text>
<text x="436.3" y="48.6" font-size="10" stroke="#000" stroke-width="0.28" textLength="11.8" lengthAdjust="spacingAndGlyphs" fill="#000">Co</text>
<text x="448.3" y="44.9" font-size="5" stroke="#000" stroke-width="0.28" textLength="6.2" lengthAdjust="spacingAndGlyphs" fill="#000">3+</text>
<text x="452.4" y="15.4" font-size="10" stroke="#000" stroke-width="0.28" textLength="25.6" lengthAdjust="spacingAndGlyphs" fill="#000">Co 2p</text>
<text x="477.8" y="18.5" font-size="5.3" stroke="#000" stroke-width="0.28" textLength="9.2" lengthAdjust="spacingAndGlyphs" fill="#000">2/3</text>
<text x="484.2" y="49.4" font-size="10" stroke="#000" stroke-width="0.28" textLength="12" lengthAdjust="spacingAndGlyphs" fill="#000">Co</text>
<text x="496.4" y="46.9" font-size="4.8" stroke="#000" stroke-width="0.28" textLength="6.6" lengthAdjust="spacingAndGlyphs" fill="#000">2+</text>
<line x1="337.4" y1="68.3" x2="340.12" y2="74.87" stroke="#000" stroke-width="0.6" stroke-linecap="butt"/>
<path d="M341,77 L338.91,74.83 L340.95,73.99 Z" fill="#000"/>
<line x1="363.8" y1="70.8" x2="368.37" y2="75.37" stroke="#000" stroke-width="0.6" stroke-linecap="butt"/>
<path d="M370,77 L367.24,75.8 L368.8,74.24 Z" fill="#000"/>
<line x1="396.2" y1="64.3" x2="388.68" y2="67.82" stroke="#000" stroke-width="0.6" stroke-linecap="butt"/>
<path d="M386.6,68.8 L388.67,66.62 L389.6,68.61 Z" fill="#000"/>
<line x1="379.5" y1="49.5" x2="380.41" y2="57.61" stroke="#000" stroke-width="0.5" stroke-linecap="butt"/>
<path d="M380.6,59.3 L379.36,57.23 L381.35,57 Z" fill="#000"/>
<line x1="425.3" y1="79.1" x2="426.6" y2="89.92" stroke="#333" stroke-width="0.55" stroke-linecap="butt"/>
<path d="M426.9,92.4 L425.45,89.55 L427.63,89.29 Z" fill="#333"/>
<line x1="425.3" y1="79.1" x2="435.25" y2="85.02" stroke="#333" stroke-width="0.55" stroke-linecap="butt"/>
<path d="M437.4,86.3 L434.26,85.71 L435.38,83.82 Z" fill="#333"/>
<line x1="448" y1="49.9" x2="454.52" y2="56.03" stroke="#000" stroke-width="0.6" stroke-linecap="butt"/>
<path d="M456.2,57.6 L453.41,56.49 L454.91,54.88 Z" fill="#000"/>
<line x1="484.7" y1="51" x2="477.54" y2="57.99" stroke="#000" stroke-width="0.6" stroke-linecap="butt"/>
<path d="M475.9,59.6 L477.13,56.86 L478.67,58.43 Z" fill="#000"/>
<line x1="470.6" y1="17" x2="470.6" y2="19" stroke="#000" stroke-width="0.5" stroke-linecap="butt"/>
<path d="M470.6,20.5 L469.6,18.5 L471.6,18.5 Z" fill="#000"/>
<path d="M53,261.25 L53.5,261.23 L54,261.22 L54.5,261.21 L55,261.19 L55.5,261.17 L56,261.15 L56.5,261.13 L57,261.1 L57.5,261.07 L58,261.03 L58.5,260.99 L59,260.95 L59.5,260.9 L60,260.85 L60.5,260.79 L61,260.73 L61.5,260.66 L62,260.58 L62.5,260.5 L63,260.42 L63.5,260.33 L64,260.23 L64.5,260.13 L65,260.03 L65.5,259.92 L66,259.8 L66.5,259.68 L67,259.56 L67.5,259.44 L68,259.31 L68.5,259.19 L69,259.06 L69.5,258.93 L70,258.8 L70.5,258.67 L71,258.55 L71.5,258.42 L72,258.31 L72.5,258.19 L73,258.08 L73.5,257.98 L74,257.89 L74.5,257.8 L75,257.72 L75.5,257.66 L76,257.6 L76.5,257.56 L77,257.53 L77.5,257.51 L78,257.51 L78.5,257.52 L79,257.55 L79.5,257.59 L80,257.65 L80.5,257.72 L81,257.81 L81.5,257.91 L82,258.02 L82.5,258.15 L83,258.29 L83.5,258.44 L84,258.6 L84.5,258.78 L85,258.96 L85.5,259.15 L86,259.36 L86.5,259.57 L87,259.79 L87.5,260.01 L88,260.25 L88.5,260.48 L89,260.72 L89.5,260.97 L90,261.21 L90.5,261.46 L91,261.71 L91.5,261.95 L92,262.2 L92.5,262.44 L93,262.69 L93.5,262.92 L94,263.16 L94.5,263.39 L95,263.62 L95.5,263.85 L96,264.07 L96.5,264.28 L97,264.5 L97.5,264.7 L98,264.91 L98.5,265.11 L99,265.3 L99.5,265.48 L100,265.67 L100.5,265.84 L101,266.02 L101.5,266.18 L102,266.35 L102.5,266.51 L103,266.66 L103.5,266.82 L104,266.97 L104.5,267.12 L105,267.26 L105.5,267.41 L106,267.55 L106.5,267.69 L107,267.83 L107.5,267.96 L108,268.1 L108.5,268.24 L109,268.38 L109.5,268.53 L110,268.68 L110.5,268.84 L111,269 L111.5,269.17 L112,269.35 L112.5,269.53 L113,269.71 L113.5,269.89 L114,270.07 L114.5,270.25 L115,270.43 L115.5,270.61 L116,270.79 L116.5,270.97 L117,271.14 L117.5,271.33 L118,271.51 L118.5,271.69 L119,271.88 L119.5,272.08 L120,272.27 L120.5,272.47 L121,272.68 L121.5,272.89 L122,273.11 L122.5,273.34 L123,273.56 L123.5,273.79 L124,274.03 L124.5,274.26 L125,274.5 L125.5,274.74 L126,274.98 L126.5,275.22 L127,275.46 L127.5,275.7 L128,275.94 L128.5,276.18 L129,276.42 L129.5,276.66 L130,276.91 L130.5,277.15 L131,277.39 L131.5,277.64 L132,277.89 L132.5,278.13 L133,278.38 L133.5,278.63 L134,278.88 L134.5,279.13 L135,279.38 L135.5,279.63 L136,279.87 L136.5,280.12 L137,280.38 L137.5,280.63 L138,280.88 L138.5,281.13 L139,281.39 L139.5,281.64 L140,281.89 L140.5,282.14 L141,282.39 L141.5,282.64 L142,282.89 L142.5,283.14 L143,283.38 L143.5,283.62 L144,283.86 L144.5,284.1 L145,284.34 L145.5,284.57 L146,284.81 L146.5,285.04 L147,285.27 L147.5,285.5 L148,285.72 L148.5,285.95 L149,286.17 L149.5,286.39 L150,286.6 L150.5,286.82 L151,287.03 L151.5,287.24 L152,287.44 L152.5,287.64 L153,287.83 L153.5,288.01 L154,288.19 L154.5,288.35 L155,288.49 L155.5,288.62 L156,288.73 L156.5,288.81 L157,288.87 L157.5,288.9 L158,288.9 L158.5,288.85 L159,288.76 L159.5,288.62 L160,288.43 L160.5,288.18 L161,287.87 L161.5,287.49 L162,287.04 L162.5,286.51 L163,285.91 L163.5,285.22 L164,284.44 L164.5,283.57 L165,282.61 L165.5,281.56 L166,280.41 L166.5,279.17 L167,277.83 L167.5,276.4 L168,274.89 L168.5,273.3 L169,271.63 L169.5,269.9 L170,268.12 L170.5,266.3 L171,264.47 L171.5,262.65 L172,260.85 L172.5,259.1 L173,257.42 L173.5,255.86 L174,254.42 L174.5,253.15 L175,252.07 L175.5,251.22 L176,250.62 L176.5,250.29 L177,250.26 L177.5,250.53 L178,251.01 L178.5,251.67 L179,252.48 L179.5,253.46 L180,254.59 L180.5,255.87 L181,257.28 L181.5,258.82 L182,260.47 L182.5,262.21 L183,264.03 L183.5,265.93 L184,267.89 L184.5,269.89 L185,271.92 L185.5,273.99 L186,276.06 L186.5,278.14 L187,280.21 L187.5,282.28 L188,284.33 L188.5,286.35 L189,288.35 L189.5,290.32 L190,292.25 L190.5,294.14 L191,296 L191.5,297.81 L192,299.57 L192.5,301.3 L193,302.98 L193.5,304.62 L194,306.21 L194.5,307.75 L195,309.24 L195.5,310.69 L196,312.08 L196.5,313.42 L197,314.71 L197.5,315.95 L198,317.16 L198.5,318.32 L199,319.45 L199.5,320.53 L200,321.59 L200.5,322.61 L201,323.6 L201.5,324.55 L202,325.48 L202.5,326.38 L203,327.26 L203.5,328.12 L204,328.97 L204.5,329.81 L205,330.62 L205.5,331.4 L206,332.16 L206.5,332.89 L207,333.59 L207.5,334.26 L208,334.93 L208.5,335.58 L209,336.22 L209.5,336.83 L210,337.41 L210.5,337.97 L211,338.48 L211.5,338.96 L212,339.4 L212.5,339.83 L213,340.25 L213.5,340.64 L214,341 L214.5,341.33 L215,341.62 L215.5,341.86 L216,342.07 L216.5,342.27 L217,342.46 L217.5,342.64 L218,342.8 L218.5,342.95 L219,343.08 L219.5,343.21 L220,343.31 L220.5,343.4 L221,343.47 L221.5,343.54 L222,343.61 L222.5,343.67 L223,343.73 L223.5,343.79 L224,343.84 L224.5,343.89 L225,343.94 L225.5,343.98 L226,344.03 L226.5,344.07 L227,344.11 L227.5,344.15 L228,344.18 L228.5,344.22 L229,344.26 L229.5,344.29 L230,344.32 L230.5,344.36 L231,344.39 L231.5,344.42 L232,344.45 L232.5,344.47 L233,344.5" fill="none" stroke="#3a3aff" stroke-width="1.05" stroke-linejoin="round"/>
<path d="M93,265.08 L93.5,265.11 L94,265.14 L94.5,265.14 L95,265.14 L95.5,265.11 L96,265.07 L96.5,265 L97,264.91 L97.5,264.78 L98,264.62 L98.5,264.42 L99,264.18 L99.5,263.9 L100,263.56 L100.5,263.18 L101,262.73 L101.5,262.23 L102,261.67 L102.5,261.06 L103,260.38 L103.5,259.64 L104,258.85 L104.5,258 L105,257.1 L105.5,256.16 L106,255.18 L106.5,254.17 L107,253.14 L107.5,252.11 L108,251.08 L108.5,250.06 L109,249.08 L109.5,248.15 L110,247.27 L110.5,246.47 L111,245.76 L111.5,245.15 L112,244.64 L112.5,244.26 L113,244 L113.5,243.87 L114,243.88 L114.5,244.02 L115,244.29 L115.5,244.7 L116,245.22 L116.5,245.87 L117,246.64 L117.5,247.51 L118,248.48 L118.5,249.54 L119,250.68 L119.5,251.89 L120,253.14 L120.5,254.44 L121,255.77 L121.5,257.12 L122,258.48 L122.5,259.83 L123,261.16 L123.5,262.47 L124,263.75 L124.5,264.99 L125,266.18 L125.5,267.32 L126,268.4 L126.5,269.43 L127,270.41 L127.5,271.32 L128,272.18 L128.5,272.98 L129,273.73 L129.5,274.42 L130,275.08 L130.5,275.68 L131,276.25 L131.5,276.78 L132,277.28 L132.5,277.74 L133,278.18 L133.5,278.59 L134,278.99 L134.5,279.36 L135,279.72 L135.5,280.06 L136,280.39 L136.5,280.71" fill="none" stroke="#ff30ff" stroke-width="1.05" stroke-linejoin="round"/>
<path d="M111,269.13 L111.5,269.22 L112,269.3 L112.5,269.37 L113,269.4 L113.5,269.41 L114,269.37 L114.5,269.29 L115,269.16 L115.5,268.96 L116,268.69 L116.5,268.34 L117,267.91 L117.5,267.37 L118,266.74 L118.5,265.99 L119,265.12 L119.5,264.13 L120,263.02 L120.5,261.78 L121,260.41 L121.5,258.93 L122,257.34 L122.5,255.65 L123,253.87 L123.5,252.02 L124,250.14 L124.5,248.23 L125,246.34 L125.5,244.48 L126,242.7 L126.5,241.03 L127,239.49 L127.5,238.12 L128,236.96 L128.5,236.02 L129,235.34 L129.5,234.93 L130,234.81 L130.5,234.97 L131,235.35 L131.5,235.91 L132,236.63 L132.5,237.52 L133,238.57 L133.5,239.77 L134,241.11 L134.5,242.57 L135,244.14 L135.5,245.8 L136,247.55 L136.5,249.37 L137,251.24 L137.5,253.15 L138,255.07 L138.5,257.01 L139,258.94 L139.5,260.85 L140,262.72 L140.5,264.56 L141,266.34 L141.5,268.07 L142,269.73 L142.5,271.32 L143,272.84 L143.5,274.28 L144,275.64 L144.5,276.92 L145,278.12 L145.5,279.25 L146,280.3 L146.5,281.29 L147,282.2 L147.5,283.05 L148,283.84 L148.5,284.58 L149,285.26 L149.5,285.9 L150,286.49 L150.5,287.05 L151,287.58 L151.5,288.07 L152,288.53 L152.5,288.98 L153,289.4 L153.5,289.8 L154,290.19 L154.5,290.57 L155,290.93 L155.5,291.28" fill="none" stroke="#ff3a3a" stroke-width="1.05" stroke-linejoin="round"/>
<path d="M130.5,277.55 L131,277.76 L131.5,277.95 L132,278.14 L132.5,278.31 L133,278.46 L133.5,278.6 L134,278.71 L134.5,278.8 L135,278.85 L135.5,278.87 L136,278.86 L136.5,278.8 L137,278.7 L137.5,278.55 L138,278.34 L138.5,278.07 L139,277.73 L139.5,277.33 L140,276.85 L140.5,276.29 L141,275.65 L141.5,274.93 L142,274.12 L142.5,273.23 L143,272.25 L143.5,271.19 L144,270.05 L144.5,268.84 L145,267.56 L145.5,266.22 L146,264.84 L146.5,263.41 L147,261.97 L147.5,260.51 L148,259.07 L148.5,257.64 L149,256.26 L149.5,254.93 L150,253.67 L150.5,252.51 L151,251.47 L151.5,250.54 L152,249.76 L152.5,249.13 L153,248.67 L153.5,248.39 L154,248.28 L154.5,248.37 L155,248.64 L155.5,249.04 L156,249.56 L156.5,250.19 L157,250.94 L157.5,251.79 L158,252.74 L158.5,253.79 L159,254.93 L159.5,256.16 L160,257.46 L160.5,258.83 L161,260.27 L161.5,261.76 L162,263.29 L162.5,264.87 L163,266.48 L163.5,268.12 L164,269.77 L164.5,271.43 L165,273.1 L165.5,274.76 L166,276.42 L166.5,278.06 L167,279.67 L167.5,281.26 L168,282.82 L168.5,284.33 L169,285.81 L169.5,287.24 L170,288.62 L170.5,289.95 L171,291.23 L171.5,292.47 L172,293.65 L172.5,294.79 L173,295.87 L173.5,296.91 L174,297.9 L174.5,298.84 L175,299.73 L175.5,300.58 L176,301.38 L176.5,302.14 L177,302.87 L177.5,303.56 L178,304.22 L178.5,304.85 L179,305.46 L179.5,306.05 L180,306.62 L180.5,307.17 L181,307.72 L181.5,308.26 L182,308.78 L182.5,309.3 L183,309.82 L183.5,310.32 L184,310.83 L184.5,311.33 L185,311.82 L185.5,312.31" fill="none" stroke="#a040c8" stroke-width="1.05" stroke-linejoin="round"/>
<path d="M172,301.74 L172.5,302.04 L173,302.33 L173.5,302.59 L174,302.83 L174.5,303.03 L175,303.19 L175.5,303.3 L176,303.35 L176.5,303.34 L177,303.25 L177.5,303.07 L178,302.8 L178.5,302.43 L179,301.94 L179.5,301.33 L180,300.59 L180.5,299.71 L181,298.69 L181.5,297.51 L182,296.19 L182.5,294.73 L183,293.11 L183.5,291.37 L184,289.5 L184.5,287.54 L185,285.49 L185.5,283.39 L186,281.28 L186.5,279.17 L187,277.11 L187.5,275.15 L188,273.31 L188.5,271.65 L189,270.19 L189.5,268.98 L190,268.05 L190.5,267.43 L191,267.15 L191.5,267.2 L192,267.62 L192.5,268.28 L193,269.13 L193.5,270.16 L194,271.36 L194.5,272.74 L195,274.27 L195.5,275.95 L196,277.77 L196.5,279.7 L197,281.75 L197.5,283.89 L198,286.11 L198.5,288.41 L199,290.76 L199.5,293.15 L200,295.57 L200.5,298 L201,300.43 L201.5,302.85 L202,305.23 L202.5,307.58 L203,309.89 L203.5,312.15 L204,314.36 L204.5,316.5 L205,318.57 L205.5,320.56 L206,322.46 L206.5,324.26 L207,325.96 L207.5,327.57 L208,329.11 L208.5,330.56 L209,331.93 L209.5,333.22 L210,334.41 L210.5,335.52 L211,336.53 L211.5,337.45 L212,338.29 L212.5,339.07 L213,339.79 L213.5,340.45 L214,341.05 L214.5,341.57 L215,342.03 L215.5,342.42 L216,342.76 L216.5,343.06 L217,343.33 L217.5,343.58 L218,343.79 L218.5,343.99 L219,344.15 L219.5,344.3 L220,344.42" fill="none" stroke="#ff30ff" stroke-width="1.05" stroke-linejoin="round"/>
<path d="M180.5,308.05 L181,308.39 L181.5,308.72 L182,309.04 L182.5,309.34 L183,309.63 L183.5,309.89 L184,310.12 L184.5,310.32 L185,310.47 L185.5,310.58 L186,310.63 L186.5,310.61 L187,310.51 L187.5,310.33 L188,310.06 L188.5,309.68 L189,309.19 L189.5,308.57 L190,307.82 L190.5,306.93 L191,305.88 L191.5,304.68 L192,303.31 L192.5,301.78 L193,300.08 L193.5,298.21 L194,296.17 L194.5,293.96 L195,291.6 L195.5,289.08 L196,286.44 L196.5,283.67 L197,280.81 L197.5,277.89 L198,274.93 L198.5,271.98 L199,269.05 L199.5,266.2 L200,263.45 L200.5,260.85 L201,258.42 L201.5,256.22 L202,254.27 L202.5,252.61 L203,251.27 L203.5,250.29 L204,249.68 L204.5,249.46 L205,249.63 L205.5,250.2 L206,251.19 L206.5,252.59 L207,254.38 L207.5,256.57 L208,259.12 L208.5,262.02 L209,265.21 L209.5,268.67 L210,272.33 L210.5,276.15 L211,280.09 L211.5,284.1 L212,288.14 L212.5,292.19 L213,296.22 L213.5,300.17 L214,304.01 L214.5,307.71 L215,311.23 L215.5,314.55 L216,317.68 L216.5,320.61 L217,323.35 L217.5,325.88 L218,328.21 L218.5,330.33 L219,332.25 L219.5,333.97 L220,335.51 L220.5,336.87 L221,338.07 L221.5,339.12 L222,340.05 L222.5,340.85 L223,341.54 L223.5,342.14 L224,342.65 L224.5,343.09 L225,343.46 L225.5,343.77 L226,344.04 L226.5,344.26 L227,344.44 L227.5,344.59 L228,344.72 L228.5,344.83 L229,344.92 L229.5,344.99" fill="none" stroke="#ff3a3a" stroke-width="1.05" stroke-linejoin="round"/>
<path d="M53,261.5 L53.5,261.51 L54,261.53 L54.5,261.54 L55,261.56 L55.5,261.57 L56,261.59 L56.5,261.61 L57,261.62 L57.5,261.64 L58,261.66 L58.5,261.68 L59,261.71 L59.5,261.73 L60,261.75 L60.5,261.77 L61,261.8 L61.5,261.82 L62,261.84 L62.5,261.87 L63,261.89 L63.5,261.92 L64,261.95 L64.5,261.97 L65,262 L65.5,262.03 L66,262.06 L66.5,262.09 L67,262.12 L67.5,262.15 L68,262.18 L68.5,262.21 L69,262.25 L69.5,262.28 L70,262.32 L70.5,262.36 L71,262.39 L71.5,262.43 L72,262.47 L72.5,262.51 L73,262.56 L73.5,262.6 L74,262.64 L74.5,262.69 L75,262.73 L75.5,262.78 L76,262.83 L76.5,262.88 L77,262.93 L77.5,262.99 L78,263.05 L78.5,263.11 L79,263.17 L79.5,263.23 L80,263.3 L80.5,263.36 L81,263.43 L81.5,263.5 L82,263.57 L82.5,263.64 L83,263.71 L83.5,263.78 L84,263.85 L84.5,263.93 L85,264 L85.5,264.07 L86,264.15 L86.5,264.22 L87,264.3 L87.5,264.38 L88,264.46 L88.5,264.54 L89,264.62 L89.5,264.71 L90,264.79 L90.5,264.88 L91,264.96 L91.5,265.05 L92,265.14 L92.5,265.23 L93,265.32 L93.5,265.41 L94,265.5 L94.5,265.59 L95,265.69 L95.5,265.78 L96,265.88 L96.5,265.98 L97,266.08 L97.5,266.18 L98,266.28 L98.5,266.39 L99,266.49 L99.5,266.6 L100,266.7 L100.5,266.81 L101,266.91 L101.5,267.02 L102,267.13 L102.5,267.23 L103,267.34 L103.5,267.46 L104,267.57 L104.5,267.68 L105,267.8 L105.5,267.92 L106,268.03 L106.5,268.15 L107,268.27 L107.5,268.39 L108,268.52 L108.5,268.64 L109,268.78 L109.5,268.91 L110,269.06 L110.5,269.21 L111,269.37 L111.5,269.54 L112,269.71 L112.5,269.89 L113,270.07 L113.5,270.25 L114,270.43 L114.5,270.62 L115,270.8 L115.5,270.98 L116,271.16 L116.5,271.35 L117,271.53 L117.5,271.72 L118,271.9 L118.5,272.09 L119,272.29 L119.5,272.49 L120,272.69 L120.5,272.9 L121,273.11 L121.5,273.33 L122,273.56 L122.5,273.79 L123,274.03 L123.5,274.26 L124,274.51 L124.5,274.75 L125,275 L125.5,275.25 L126,275.5 L126.5,275.75 L127,276 L127.5,276.25 L128,276.5 L128.5,276.75 L129,277 L129.5,277.26 L130,277.51 L130.5,277.77 L131,278.03 L131.5,278.28 L132,278.54 L132.5,278.81 L133,279.07 L133.5,279.33 L134,279.6 L134.5,279.86 L135,280.13 L135.5,280.39 L136,280.66 L136.5,280.93 L137,281.2 L137.5,281.47 L138,281.74 L138.5,282.02 L139,282.29 L139.5,282.57 L140,282.84 L140.5,283.12 L141,283.4 L141.5,283.67 L142,283.95 L142.5,284.23 L143,284.5 L143.5,284.77 L144,285.05 L144.5,285.32 L145,285.59 L145.5,285.86 L146,286.14 L146.5,286.41 L147,286.68 L147.5,286.95 L148,287.23 L148.5,287.5 L149,287.78 L149.5,288.06 L150,288.34 L150.5,288.62 L151,288.9 L151.5,289.19 L152,289.47 L152.5,289.76 L153,290.05 L153.5,290.35 L154,290.64 L154.5,290.94 L155,291.23 L155.5,291.53 L156,291.82 L156.5,292.12 L157,292.41 L157.5,292.71 L158,293 L158.5,293.29 L159,293.58 L159.5,293.86 L160,294.15 L160.5,294.43 L161,294.71 L161.5,295 L162,295.28 L162.5,295.57 L163,295.86 L163.5,296.16 L164,296.46 L164.5,296.76 L165,297.07 L165.5,297.39 L166,297.72 L166.5,298.05 L167,298.39 L167.5,298.73 L168,299.08 L168.5,299.43 L169,299.79 L169.5,300.14 L170,300.5 L170.5,300.86 L171,301.22 L171.5,301.59 L172,301.96 L172.5,302.33 L173,302.7 L173.5,303.08 L174,303.45 L174.5,303.83 L175,304.2 L175.5,304.57 L176,304.94 L176.5,305.3 L177,305.66 L177.5,306.03 L178,306.39 L178.5,306.76 L179,307.13 L179.5,307.51 L180,307.89 L180.5,308.28 L181,308.68 L181.5,309.09 L182,309.5 L182.5,309.92 L183,310.34 L183.5,310.77 L184,311.21 L184.5,311.65 L185,312.1 L185.5,312.55 L186,313 L186.5,313.46 L187,313.92 L187.5,314.38 L188,314.85 L188.5,315.32 L189,315.8 L189.5,316.28 L190,316.77 L190.5,317.27 L191,317.78 L191.5,318.29 L192,318.82 L192.5,319.35 L193,319.9 L193.5,320.46 L194,321.02 L194.5,321.59 L195,322.17 L195.5,322.75 L196,323.33 L196.5,323.92 L197,324.5 L197.5,325.08 L198,325.67 L198.5,326.27 L199,326.86 L199.5,327.46 L200,328.06 L200.5,328.67 L201,329.27 L201.5,329.88 L202,330.48 L202.5,331.08 L203,331.68 L203.5,332.3 L204,332.92 L204.5,333.54 L205,334.16 L205.5,334.76 L206,335.36 L206.5,335.94 L207,336.5 L207.5,337.05 L208,337.6 L208.5,338.14 L209,338.68 L209.5,339.2 L210,339.7 L210.5,340.17 L211,340.62 L211.5,341.02 L212,341.4 L212.5,341.77 L213,342.13 L213.5,342.47 L214,342.78 L214.5,343.06 L215,343.3 L215.5,343.5 L216,343.67 L216.5,343.83 L217,343.98 L217.5,344.12 L218,344.25 L218.5,344.37 L219,344.47 L219.5,344.56 L220,344.63 L220.5,344.69 L221,344.74 L221.5,344.78 L222,344.82 L222.5,344.86 L223,344.89 L223.5,344.93 L224,344.96 L224.5,344.98 L225,345.01 L225.5,345.03 L226,345.06 L226.5,345.08 L227,345.1 L227.5,345.12 L228,345.14 L228.5,345.16 L229,345.18 L229.5,345.19 L230,345.21 L230.5,345.23 L231,345.24 L231.5,345.26 L232,345.27 L232.5,345.28 L233,345.29" fill="none" stroke="#a33444" stroke-width="1.1" stroke-linejoin="round"/>
<path d="M31.3,262.12 L32,263.04 L32.7,263.07 L33.4,263.35 L34.1,261.53 L34.8,262.87 L35.5,261.98 L36.2,261.15 L36.9,260.83 L37.6,257.1 L38.3,261.47 L39,260.38 L39.7,265.29 L40.4,261.19 L41.1,259.33 L41.8,264.55 L42.5,259.18 L43.2,263 L43.9,260.22 L44.6,261.51 L45.3,262.71 L46,257.99 L46.7,255.62 L47.4,262.28 L48.1,259.7 L48.8,261.93 L49.5,262.3 L50.2,261.48 L50.9,263.47 L51.6,261.28 L52.3,260.32 L53,269.07 L53.7,261.6" fill="none" stroke="#9c9c14" stroke-width="1.15" stroke-linejoin="round"/>
<path d="M232,344.79 L232.7,346.02 L233.4,343.75 L234.1,344.47 L234.8,344.03 L235.5,344.87 L236.2,348.32 L236.9,344.65 L237.6,345.92 L238.3,346.96 L239,346.77 L239.7,343.59 L240.4,344.54 L241.1,342.98 L241.8,347.22 L242.5,346.13 L243.2,346.61 L243.9,346.49 L244.6,344.91 L245.3,345.79 L246,347.61 L246.7,347.62 L247.4,348.03 L248.1,349.72 L248.8,346.32 L249.5,348.71 L250.2,347.5 L250.9,348.76 L251.6,347.46 L252.3,345.91 L253,348.56 L253.7,346.77 L254.4,346.64 L255.1,348.27 L255.8,345.98 L256.5,349.5 L257.2,347.11 L257.9,346.65 L258.6,347.01 L259.3,349.19 L260,347.43 L260.7,349.99 L261.4,348.89" fill="none" stroke="#9c9c14" stroke-width="1.1" stroke-linejoin="round"/>
<path d="M53,261 L53.5,260.96 L54,260.91 L54.5,260.87 L55,260.82 L55.5,260.78 L56,260.73 L56.5,260.68 L57,260.63 L57.5,260.57 L58,260.52 L58.5,260.47 L59,260.41 L59.5,260.36 L60,260.3 L60.5,260.24 L61,260.18 L61.5,260.12 L62,260.05 L62.5,259.99 L63,259.92 L63.5,259.85 L64,259.78 L64.5,259.71 L65,259.64 L65.5,259.57 L66,259.5 L66.5,259.43 L67,259.36 L67.5,259.28 L68,259.21 L68.5,259.14 L69,259.07 L69.5,258.99 L70,258.92 L70.5,258.84 L71,258.76 L71.5,258.68 L72,258.6 L72.5,258.53 L73,258.46 L73.5,258.39 L74,258.32 L74.5,258.26 L75,258.2 L75.5,258.14 L76,258.09 L76.5,258.03 L77,257.97 L77.5,257.91 L78,257.85 L78.5,257.8 L79,257.75 L79.5,257.7 L80,257.67 L80.5,257.64 L81,257.61 L81.5,257.6 L82,257.61 L82.5,257.67 L83,257.79 L83.5,257.96 L84,258.16 L84.5,258.38 L85,258.6 L85.5,258.81 L86,259 L86.5,259.18 L87,259.39 L87.5,259.6 L88,259.82 L88.5,260.03 L89,260.24 L89.5,260.42 L90,260.58 L90.5,260.71 L91,260.8 L91.5,260.86 L92,260.93 L92.5,260.98 L93,261.04 L93.5,261.08 L94,261.12 L94.5,261.15 L95,261.18 L95.5,261.19 L96,261.2 L96.5,261.18 L97,261.13 L97.5,261.05 L98,260.94 L98.5,260.81 L99,260.66 L99.5,260.5 L100,260.33 L100.5,260.14 L101,259.86 L101.5,259.52 L102,259.14 L102.5,258.73 L103,258.3 L103.5,257.85 L104,257.36 L104.5,256.82 L105,256.24 L105.5,255.59 L106,254.9 L106.5,254.11 L107,253.15 L107.5,252.07 L108,250.95 L108.5,249.87 L109,248.75 L109.5,247.61 L110,246.5 L110.5,245.37 L111,244.21 L111.5,243.15 L112,242.3 L112.5,241.65 L113,241.08 L113.5,240.58 L114,240.13 L114.5,239.72 L115,239.34 L115.5,238.99 L116,238.67 L116.5,238.36 L117,238.07 L117.5,237.78 L118,237.5 L118.5,237.23 L119,236.97 L119.5,236.73 L120,236.49 L120.5,236.25 L121,236.01 L121.5,235.76 L122,235.5 L122.5,235.23 L123,234.94 L123.5,234.64 L124,234.35 L124.5,234.05 L125,233.76 L125.5,233.47 L126,233.2 L126.5,232.91 L127,232.6 L127.5,232.27 L128,231.96 L128.5,231.69 L129,231.47 L129.5,231.34 L130,231.31 L130.5,231.47 L131,231.83 L131.5,232.33 L132,232.9 L132.5,233.5 L133,234.18 L133.5,235.04 L134,236.02 L134.5,237.12 L135,238.29 L135.5,239.51 L136,240.79 L136.5,242.3 L137,243.93 L137.5,245.54 L138,247 L138.5,248.41 L139,249.85 L139.5,251.14 L140,252.13 L140.5,252.68 L141,253.09 L141.5,253.39 L142,253.5 L142.5,253.35 L143,252.97 L143.5,252.48 L144,252 L144.5,251.54 L145,251.03 L145.5,250.48 L146,249.91 L146.5,249.33 L147,248.74 L147.5,248.16 L148,247.59 L148.5,246.99 L149,246.35 L149.5,245.71 L150,245.09 L150.5,244.51 L151,244.01 L151.5,243.6 L152,243.25 L152.5,242.89 L153,242.56 L153.5,242.25 L154,241.99 L154.5,241.78 L155,241.65 L155.5,241.6 L156,241.63 L156.5,241.7 L157,241.82 L157.5,241.96 L158,242.12 L158.5,242.3 L159,242.53 L159.5,242.84 L160,243.22 L160.5,243.67 L161,244.15 L161.5,244.66 L162,245.19 L162.5,245.74 L163,246.38 L163.5,247.1 L164,247.86 L164.5,248.62 L165,249.34 L165.5,250 L166,250.67 L166.5,251.39 L167,252.1 L167.5,252.74 L168,253.22 L168.5,253.48 L169,253.5 L169.5,253.47 L170,253.43 L170.5,253.37 L171,253.3 L171.5,253.1 L172,252.69 L172.5,252.14 L173,251.51 L173.5,250.88 L174,250.3 L174.5,249.75 L175,249.16 L175.5,248.56 L176,247.96 L176.5,247.39 L177,246.87 L177.5,246.41 L178,246 L178.5,245.61 L179,245.24 L179.5,244.9 L180,244.58 L180.5,244.28 L181,244 L181.5,243.76 L182,243.55 L182.5,243.37 L183,243.19 L183.5,243.01 L184,242.81 L184.5,242.58 L185,242.3 L185.5,241.94 L186,241.5 L186.5,240.98 L187,240.4 L187.5,239.79 L188,239.15 L188.5,238.5 L189,237.8 L189.5,237.01 L190,236.17 L190.5,235.29 L191,234.4 L191.5,233.53 L192,232.71 L192.5,231.97 L193,231.31 L193.5,230.68 L194,230.06 L194.5,229.47 L195,228.91 L195.5,228.38 L196,227.88 L196.5,227.42 L197,227 L197.5,226.59 L198,226.16 L198.5,225.74 L199,225.33 L199.5,224.95 L200,224.61 L200.5,224.34 L201,224.13 L201.5,224.02 L202,224.02 L202.5,224.27 L203,224.76 L203.5,225.44 L204,226.27 L204.5,227.2 L205,228.22 L205.5,229.68 L206,231.66 L206.5,234 L207,237.06 L207.5,240.86 L208,244.77 L208.5,248.83 L209,253 L209.5,257.09 L210,261.26 L210.5,265.72 L211,270.5 L211.5,275.34 L212,280 L212.5,284.24 L213,288.25 L213.5,292.38 L214,297 L214.5,302.94 L215,309.07 L215.5,313.39 L216,316.84 L216.5,319.81 L217,322.5 L217.5,325.02 L218,327.33 L218.5,329.39 L219,331.2 L219.5,332.85 L220,334.31 L220.5,335.5 L221,336.46 L221.5,337.29 L222,338 L222.5,338.62 L223,339.18 L223.5,339.7 L224,340.18 L224.5,340.63 L225,341.03 L225.5,341.39 L226,341.7 L226.5,341.98 L227,342.24 L227.5,342.47 L228,342.69 L228.5,342.88 L229,343.07 L229.5,343.24 L230,343.39 L230.5,343.54 L231,343.69 L231.5,343.82 L232,343.94 L232.5,344.05 L233,344.15" fill="none" stroke="#a0a028" stroke-width="1.5" stroke-linejoin="round"/>
<path d="M53,261.12 L53.45,259.13 L53.9,262.33 L54.35,259.71 L54.8,260.62 L55.25,259.11 L55.7,260.41 L56.15,264.59 L56.6,257.09 L57.05,259.17 L57.5,263.84 L57.95,261.63 L58.4,259.79 L58.85,262.65 L59.3,259.36 L59.75,261.29 L60.2,258.67 L60.65,260.35 L61.1,260.64 L61.55,264.77 L62,263.38 L62.45,260.12 L62.9,260.53 L63.35,263.94 L63.8,261.06 L64.25,260.46 L64.7,265.21 L65.15,258.99 L65.6,263.61 L66.05,259.62 L66.5,263.48 L66.95,262.66 L67.4,254.74 L67.85,260.94 L68.3,258.35 L68.75,261.4 L69.2,264.53 L69.65,254.25 L70.1,265 L70.55,257.57 L71,259.13 L71.45,253.68 L71.9,262.82 L72.35,257.92 L72.8,253.09 L73.25,261.32 L73.7,261.06 L74.15,260.61 L74.6,257.89 L75.05,259.56 L75.5,261 L75.95,256.87 L76.4,257.02 L76.85,257.99 L77.3,260.22 L77.75,258.28 L78.2,257.99 L78.65,260.17 L79.1,260.17 L79.55,258.02 L80,260 L80.45,253.48 L80.9,257.15 L81.35,258.7 L81.8,255.5 L82.25,260.8 L82.7,257.78 L83.15,259.76 L83.6,255.36 L84.05,264.96 L84.5,261.22 L84.95,259.15 L85.4,257.14 L85.85,260.42 L86.3,260.14 L86.75,263.26 L87.2,262.07 L87.65,259.84 L88.1,256.31 L88.55,258.56 L89,260.21 L89.45,259.39 L89.9,260.13 L90.35,261.58 L90.8,263.04 L91.25,259.31 L91.7,260.41 L92.15,260.37 L92.6,258.35 L93.05,263.48 L93.5,262.65 L93.95,263.25 L94.4,266.32 L94.85,261.24 L95.3,262.83 L95.75,264.94 L96.2,261.41 L96.65,258.59 L97.1,261.83 L97.55,257.11 L98,261.28 L98.45,260.2 L98.9,263.7 L99.35,260.74 L99.8,263.36 L100.25,259.34 L100.7,258.6 L101.15,255.81 L101.6,258.54 L102.05,263.26 L102.5,255.82 L102.95,259.7 L103.4,257.07 L103.85,256.78 L104.3,253 L104.75,256.52 L105.2,255.66 L105.65,255.04 L106.1,255.98 L106.55,255.37 L107,253.64 L107.45,246.58 L107.9,251.1 L108.35,250.54 L108.8,247.46 L109.25,249.56 L109.7,247.21 L110.15,242.13 L110.6,248.98 L111.05,243.99 L111.5,241.02 L111.95,240.59 L112.4,239.39 L112.85,237.77 L113.3,241.36 L113.75,238.41 L114.2,240.74 L114.65,241.53 L115.1,238.49 L115.55,244.56 L116,241.68 L116.45,239.87 L116.9,239.19 L117.35,241.16 L117.8,241.29 L118.25,238.34 L118.7,237.35 L119.15,237.98 L119.6,238.03 L120.05,237.06 L120.5,237.67 L120.95,235.51 L121.4,232.92 L121.85,235.91 L122.3,234.29 L122.75,240.37 L123.2,234.21 L123.65,229.57 L124.1,236.29 L124.55,236.46 L125,235.51 L125.45,235.41 L125.9,230.56 L126.35,237.41 L126.8,234.2 L127.25,231.69 L127.7,235.81 L128.15,231.16 L128.6,232.66 L129.05,233.67 L129.5,232.95 L129.95,233.01 L130.4,231.12 L130.85,234.37 L131.3,228.6 L131.75,231.96 L132.2,231.15 L132.65,234.6 L133.1,236.65 L133.55,233.8 L134,236.68 L134.45,245.16 L134.9,239.25 L135.35,239.03 L135.8,239.57 L136.25,240.8 L136.7,247.54 L137.15,245.44 L137.6,246.13 L138.05,248.66 L138.5,246.75 L138.95,249.36 L139.4,255.7 L139.85,253.81 L140.3,252.43 L140.75,253.15 L141.2,251.57 L141.65,253.88 L142.1,251.56 L142.55,254.84 L143,251.68 L143.45,252.74 L143.9,252.21 L144.35,252.5 L144.8,253.73 L145.25,252.57 L145.7,251.52 L146.15,249.52 L146.6,246.88 L147.05,251.45 L147.5,251.52 L147.95,245.89 L148.4,247.28 L148.85,247.76 L149.3,244.77 L149.75,247.54 L150.2,241.33 L150.65,248.05 L151.1,248.89 L151.55,243.68 L152,246.87 L152.45,245.35 L152.9,243.3 L153.35,243.14 L153.8,243.13 L154.25,242.12 L154.7,240.73 L155.15,244.93 L155.6,246.41 L156.05,243.33 L156.5,249.4 L156.95,243.21 L157.4,245.55 L157.85,247.07 L158.3,244.42 L158.75,248.96 L159.2,245.95 L159.65,243.06 L160.1,244.38 L160.55,243.82 L161,241.13 L161.45,248.44 L161.9,245.65 L162.35,247.35 L162.8,249.14 L163.25,244.61 L163.7,245.09 L164.15,249.46 L164.6,251.53 L165.05,251.01 L165.5,249.32 L165.95,250.12 L166.4,248.88 L166.85,247.73 L167.3,251.93 L167.75,252.29 L168.2,252.5 L168.65,255.6 L169.1,254.3 L169.55,255.23 L170,259.24 L170.45,249.37 L170.9,254.31 L171.35,252.64 L171.8,253.96 L172.25,257.89 L172.7,251.61 L173.15,252.01 L173.6,244.99 L174.05,255 L174.5,252.75 L174.95,244.28 L175.4,247.71 L175.85,248.56 L176.3,249.26 L176.75,247.57 L177.2,248.18 L177.65,245.65 L178.1,245.77 L178.55,249.81 L179,248.34 L179.45,244.83 L179.9,247.16 L180.35,249.98 L180.8,248.62 L181.25,244.16 L181.7,247.28 L182.15,239.59 L182.6,241.75 L183.05,240.51 L183.5,246.1 L183.95,240.87 L184.4,240.75 L184.85,244.39 L185.3,240.58 L185.75,245.99 L186.2,243.68 L186.65,240.47 L187.1,238.58 L187.55,239.2 L188,235.53 L188.45,239.09 L188.9,238.07 L189.35,239.24 L189.8,237.18 L190.25,237.56 L190.7,235.88 L191.15,233.1 L191.6,231.39 L192.05,235.34 L192.5,231.24 L192.95,233.12 L193.4,232.18 L193.85,226.78 L194.3,226.89 L194.75,231.37 L195.2,229.58 L195.65,227.9 L196.1,228.08 L196.55,229.47 L197,225.83 L197.45,221.85 L197.9,228.47 L198.35,225.26 L198.8,226.19 L199.25,223.35 L199.7,226.83 L200.15,229.4 L200.6,224.02 L201.05,227.48 L201.5,224.26 L201.95,217.26 L202.4,222.06 L202.85,225.93 L203.3,221.56 L203.75,225.55 L204.2,223.1 L204.65,231.71 L205.1,228.63 L205.55,225.72 L206,232.58 L206.45,234.74 L206.9,235.8 L207.35,235.53 L207.8,241.76 L208.25,244.75 L208.7,256.44 L209.15,253.65 L209.6,262.21 L210.05,258.68 L210.5,265.05 L210.95,274.82 L211.4,271.12 L211.85,283.99 L212.3,285.42 L212.75,286.81 L213.2,285.95 L213.65,288.66 L214.1,300.12 L214.55,305.27 L215,314.07 L215.45,315.74 L215.9,319.9 L216.35,319.9 L216.8,323.74 L217.25,322.48 L217.7,326.02 L218.15,331.42 L218.6,327.38 L219.05,335.08 L219.5,331.94 L219.95,335.54 L220.4,336.26 L220.85,338.7 L221.3,337.76 L221.75,338.72 L222.2,333.76 L222.65,340.88 L223.1,336.7 L223.55,339.72 L224,340.08 L224.45,345.63 L224.9,343.74 L225.35,343.75 L225.8,344.63 L226.25,341.04 L226.7,344.13 L227.15,341.13 L227.6,343.78 L228.05,343.65 L228.5,344.23 L228.95,347.07 L229.4,342.16 L229.85,344.12 L230.3,345.82 L230.75,345.34 L231.2,345.02 L231.65,346.9 L232.1,347.7 L232.55,345.93 L233,346.35 L233.45,344.68 L233.9,338.88" fill="none" stroke="#111" stroke-width="0.9" stroke-linejoin="round"/>
<line x1="30.9" y1="206.6" x2="262" y2="206.6" stroke="#333" stroke-width="1.1" stroke-linecap="butt"/>
<line x1="262" y1="206.6" x2="262" y2="378.8" stroke="#333" stroke-width="1.1" stroke-linecap="butt"/>
<line x1="30.9" y1="206.1" x2="30.9" y2="379.3" stroke="#222" stroke-width="1.1" stroke-linecap="butt"/>
<line x1="30.4" y1="378.8" x2="262.5" y2="378.8" stroke="#222" stroke-width="1.1" stroke-linecap="butt"/>
<line x1="236.49" y1="378.8" x2="236.49" y2="375.6" stroke="#222" stroke-width="0.9" stroke-linecap="butt"/>
<line x1="207.62" y1="378.8" x2="207.62" y2="375.6" stroke="#222" stroke-width="0.9" stroke-linecap="butt"/>
<line x1="178.75" y1="378.8" x2="178.75" y2="375.6" stroke="#222" stroke-width="0.9" stroke-linecap="butt"/>
<line x1="149.88" y1="378.8" x2="149.88" y2="375.6" stroke="#222" stroke-width="0.9" stroke-linecap="butt"/>
<line x1="121.01" y1="378.8" x2="121.01" y2="375.6" stroke="#222" stroke-width="0.9" stroke-linecap="butt"/>
<line x1="92.14" y1="378.8" x2="92.14" y2="375.6" stroke="#222" stroke-width="0.9" stroke-linecap="butt"/>
<line x1="63.27" y1="378.8" x2="63.27" y2="375.6" stroke="#222" stroke-width="0.9" stroke-linecap="butt"/>
<line x1="34.4" y1="378.8" x2="34.4" y2="375.6" stroke="#222" stroke-width="0.9" stroke-linecap="butt"/>
<line x1="250.93" y1="378.8" x2="250.93" y2="376.8" stroke="#222" stroke-width="0.9" stroke-linecap="butt"/>
<line x1="222.06" y1="378.8" x2="222.06" y2="376.8" stroke="#222" stroke-width="0.9" stroke-linecap="butt"/>
<line x1="193.19" y1="378.8" x2="193.19" y2="376.8" stroke="#222" stroke-width="0.9" stroke-linecap="butt"/>
<line x1="164.31" y1="378.8" x2="164.31" y2="376.8" stroke="#222" stroke-width="0.9" stroke-linecap="butt"/>
<line x1="135.44" y1="378.8" x2="135.44" y2="376.8" stroke="#222" stroke-width="0.9" stroke-linecap="butt"/>
<line x1="106.57" y1="378.8" x2="106.57" y2="376.8" stroke="#222" stroke-width="0.9" stroke-linecap="butt"/>
<line x1="77.7" y1="378.8" x2="77.7" y2="376.8" stroke="#222" stroke-width="0.9" stroke-linecap="butt"/>
<line x1="48.84" y1="378.8" x2="48.84" y2="376.8" stroke="#222" stroke-width="0.9" stroke-linecap="butt"/>
<text x="236.49" y="387.7" font-size="6.9" text-anchor="middle" fill="#222">705</text>
<text x="207.62" y="387.7" font-size="6.9" text-anchor="middle" fill="#222">710</text>
<text x="178.75" y="387.7" font-size="6.9" text-anchor="middle" fill="#222">715</text>
<text x="149.88" y="387.7" font-size="6.9" text-anchor="middle" fill="#222">720</text>
<text x="121.01" y="387.7" font-size="6.9" text-anchor="middle" fill="#222">725</text>
<text x="92.14" y="387.7" font-size="6.9" text-anchor="middle" fill="#222">730</text>
<text x="63.27" y="387.7" font-size="6.9" text-anchor="middle" fill="#222">735</text>
<text x="34.4" y="387.7" font-size="6.9" text-anchor="middle" fill="#222">740</text>
<text x="109.9" y="400.6" font-size="9.2" textLength="73.8" lengthAdjust="spacingAndGlyphs" fill="#222">Binding Energy (eV)</text>
<text transform="translate(15.5,323.9) rotate(-90)" font-size="7.8" textLength="52" lengthAdjust="spacingAndGlyphs" fill="#222">Intensity (a.u.)</text>
<text x="0.5" y="226.6" font-size="20" stroke="#000" stroke-width="0.3" textLength="21.8" lengthAdjust="spacingAndGlyphs" fill="#000">(c)</text>
<text x="38.4" y="227.6" font-size="12.7" stroke="#000" stroke-width="0.28" textLength="30.2" lengthAdjust="spacingAndGlyphs" fill="#000">Fe 2p</text>
<text x="68.4" y="251.4" font-size="10.3" stroke="#000" stroke-width="0.28" textLength="17" lengthAdjust="spacingAndGlyphs" fill="#000">Sat.</text>
<text x="96.4" y="231.3" font-size="9.7" stroke="#000" stroke-width="0.28" textLength="10.2" lengthAdjust="spacingAndGlyphs" fill="#000">Fe</text>
<text x="106.8" y="227.7" font-size="5" stroke="#000" stroke-width="0.28" textLength="6.2" lengthAdjust="spacingAndGlyphs" fill="#000">3+</text>
<text x="111.7" y="222.4" font-size="9.8" stroke="#000" stroke-width="0.28" textLength="24.2" lengthAdjust="spacingAndGlyphs" fill="#000">Fe 2p</text>
<text x="135.8" y="225.3" font-size="5.4" stroke="#000" stroke-width="0.28" textLength="8" lengthAdjust="spacingAndGlyphs" fill="#000">1/2</text>
<text x="138.5" y="234" font-size="9.7" stroke="#000" stroke-width="0.28" textLength="10" lengthAdjust="spacingAndGlyphs" fill="#000">Fe</text>
<text x="148.7" y="230.4" font-size="5" stroke="#000" stroke-width="0.28" textLength="6" lengthAdjust="spacingAndGlyphs" fill="#000">3+</text>
<text x="156.8" y="234.6" font-size="10.3" stroke="#000" stroke-width="0.28" textLength="14.9" lengthAdjust="spacingAndGlyphs" fill="#000">Sat.</text>
<text x="172.3" y="231.1" font-size="9.7" stroke="#000" stroke-width="0.28" textLength="10" lengthAdjust="spacingAndGlyphs" fill="#000">Fe</text>
<text x="182.5" y="227.5" font-size="5" stroke="#000" stroke-width="0.28" textLength="6.2" lengthAdjust="spacingAndGlyphs" fill="#000">3+</text>
<text x="181.4" y="216.4" font-size="9.5" stroke="#000" stroke-width="0.28" textLength="24.2" lengthAdjust="spacingAndGlyphs" fill="#000">Fe 2p</text>
<text x="205" y="219.9" font-size="5.4" stroke="#000" stroke-width="0.28" textLength="8.8" lengthAdjust="spacingAndGlyphs" fill="#000">2/3</text>
<text x="213.4" y="242.1" font-size="9.7" stroke="#000" stroke-width="0.28" textLength="10" lengthAdjust="spacingAndGlyphs" fill="#000">Fe</text>
<text x="223.6" y="238.5" font-size="5" stroke="#000" stroke-width="0.28" textLength="6.4" lengthAdjust="spacingAndGlyphs" fill="#000">3+</text>
<line x1="104.5" y1="232.4" x2="108.21" y2="240.22" stroke="#000" stroke-width="0.6" stroke-linecap="butt"/>
<path d="M109.2,242.3 L107.01,240.24 L108.99,239.3 Z" fill="#000"/>
<line x1="138.6" y1="231.1" x2="134.07" y2="232.9" stroke="#000" stroke-width="0.6" stroke-linecap="butt"/>
<path d="M132.3,233.6 L134.16,231.79 L134.9,233.64 Z" fill="#000"/>
<line x1="164.3" y1="235.1" x2="159.55" y2="240.3" stroke="#000" stroke-width="0.6" stroke-linecap="butt"/>
<path d="M158,242 L159.08,239.19 L160.7,240.67 Z" fill="#000"/>
<line x1="164.3" y1="235.1" x2="170.2" y2="241.96" stroke="#000" stroke-width="0.6" stroke-linecap="butt"/>
<path d="M171.7,243.7 L169.04,242.3 L170.71,240.86 Z" fill="#000"/>
<line x1="180.9" y1="232.4" x2="186.8" y2="261.25" stroke="#000" stroke-width="0.6" stroke-linecap="butt"/>
<path d="M187.3,263.7 L185.62,260.98 L187.78,260.54 Z" fill="#000"/>
<line x1="218.6" y1="242.7" x2="210.07" y2="254.16" stroke="#000" stroke-width="0.6" stroke-linecap="butt"/>
<path d="M208.7,256 L209.49,253.1 L211.25,254.41 Z" fill="#000"/>
<line x1="200.9" y1="217.8" x2="200.9" y2="222" stroke="#000" stroke-width="0.5" stroke-linecap="butt"/>
<path d="M200.9,223.5 L199.9,221.5 L201.9,221.5 Z" fill="#000"/>
<path d="M411.5,351.6 L411.9,351.61 L412.3,351.61 L412.7,351.62 L413.1,351.63 L413.5,351.63 L413.9,351.64 L414.3,351.65 L414.7,351.65 L415.1,351.66 L415.5,351.67 L415.9,351.67 L416.3,351.68 L416.7,351.69 L417.1,351.7 L417.5,351.71 L417.9,351.71 L418.3,351.72 L418.7,351.73 L419.1,351.74 L419.5,351.75 L419.9,351.76 L420.3,351.76 L420.7,351.77 L421.1,351.78 L421.5,351.79 L421.9,351.8 L422.3,351.81 L422.7,351.82 L423.1,351.83 L423.5,351.84 L423.9,351.85 L424.3,351.86 L424.7,351.87 L425.1,351.88 L425.5,351.88 L425.9,351.89 L426.3,351.9 L426.7,351.91 L427.1,351.92 L427.5,351.93 L427.9,351.95 L428.3,351.96 L428.7,351.97 L429.1,351.98 L429.5,351.99 L429.9,352 L430.3,352.01 L430.7,352.02 L431.1,352.03 L431.5,352.04 L431.9,352.05 L432.3,352.06 L432.7,352.07 L433.1,352.08 L433.5,352.09 L433.9,352.1 L434.3,352.11 L434.7,352.12 L435.1,352.14 L435.5,352.15 L435.9,352.16 L436.3,352.17 L436.7,352.18 L437.1,352.19 L437.5,352.2 L437.9,352.22 L438.3,352.23 L438.7,352.24 L439.1,352.25 L439.5,352.27 L439.9,352.28 L440.3,352.29 L440.7,352.31 L441.1,352.32 L441.5,352.33 L441.9,352.35 L442.3,352.36 L442.7,352.38 L443.1,352.39 L443.5,352.41 L443.9,352.43 L444.3,352.44 L444.7,352.46 L445.1,352.48 L445.5,352.5 L445.9,352.52 L446.3,352.53 L446.7,352.55 L447.1,352.57 L447.5,352.59 L447.9,352.62 L448.3,352.64 L448.7,352.67 L449.1,352.69 L449.5,352.72 L449.9,352.75 L450.3,352.79 L450.7,352.82 L451.1,352.86 L451.5,352.89 L451.9,352.93 L452.3,352.97 L452.7,353.02 L453.1,353.06 L453.5,353.1 L453.9,353.15 L454.3,353.19 L454.7,353.24 L455.1,353.29 L455.5,353.34 L455.9,353.39 L456.3,353.44 L456.7,353.49 L457.1,353.54 L457.5,353.6 L457.9,353.65 L458.3,353.7 L458.7,353.76 L459.1,353.81 L459.5,353.87 L459.9,353.92 L460.3,353.97 L460.7,354.03 L461.1,354.08 L461.5,354.14 L461.9,354.19 L462.3,354.25 L462.7,354.3 L463.1,354.35 L463.5,354.4 L463.9,354.46 L464.3,354.51 L464.7,354.56 L465.1,354.61 L465.5,354.66 L465.9,354.71 L466.3,354.75 L466.7,354.8 L467.1,354.85 L467.5,354.89 L467.9,354.94 L468.3,354.99 L468.7,355.03 L469.1,355.08 L469.5,355.13 L469.9,355.17 L470.3,355.22 L470.7,355.27 L471.1,355.31 L471.5,355.36 L471.9,355.41 L472.3,355.45 L472.7,355.5 L473.1,355.55 L473.5,355.6 L473.9,355.64 L474.3,355.69 L474.7,355.74 L475.1,355.78 L475.5,355.83 L475.9,355.88 L476.3,355.92 L476.7,355.97 L477.1,356.02 L477.5,356.06 L477.9,356.11 L478.3,356.15 L478.7,356.2 L479.1,356.24 L479.5,356.29 L479.9,356.33 L480.3,356.38 L480.7,356.42 L481.1,356.47 L481.5,356.51 L481.9,356.55 L482.3,356.59 L482.7,356.64 L483.1,356.68 L483.5,356.72 L483.9,356.76 L484.3,356.8 L484.7,356.85 L485.1,356.89 L485.5,356.93 L485.9,356.97 L486.3,357.01 L486.7,357.05 L487.1,357.09 L487.5,357.13 L487.9,357.17 L488.3,357.21 L488.7,357.25 L489.1,357.29 L489.5,357.33 L489.9,357.37 L490.3,357.41 L490.7,357.45 L491.1,357.48 L491.5,357.52 L491.9,357.56 L492.3,357.6 L492.7,357.64 L493.1,357.68 L493.5,357.71 L493.9,357.75 L494.3,357.79 L494.7,357.83 L495.1,357.86 L495.5,357.9 L495.9,357.94 L496.3,357.97 L496.7,358.01 L497.1,358.04 L497.5,358.08 L497.9,358.12 L498.3,358.15 L498.7,358.19 L499.1,358.22 L499.5,358.26 L499.9,358.29" fill="none" stroke="#ff40ff" stroke-width="1.0" stroke-linejoin="round"/>
<path d="M411.5,348.99 L411.9,348.95 L412.3,348.91 L412.7,348.87 L413.1,348.83 L413.5,348.78 L413.9,348.74 L414.3,348.69 L414.7,348.65 L415.1,348.6 L415.5,348.55 L415.9,348.5 L416.3,348.44 L416.7,348.39 L417.1,348.33 L417.5,348.28 L417.9,348.22 L418.3,348.15 L418.7,348.09 L419.1,348.02 L419.5,347.95 L419.9,347.88 L420.3,347.8 L420.7,347.73 L421.1,347.65 L421.5,347.56 L421.9,347.47 L422.3,347.38 L422.7,347.28 L423.1,347.18 L423.5,347.07 L423.9,346.96 L424.3,346.84 L424.7,346.71 L425.1,346.58 L425.5,346.43 L425.9,346.28 L426.3,346.12 L426.7,345.95 L427.1,345.77 L427.5,345.57 L427.9,345.36 L428.3,345.14 L428.7,344.9 L429.1,344.64 L429.5,344.36 L429.9,344.06 L430.3,343.74 L430.7,343.39 L431.1,343.02 L431.5,342.62 L431.9,342.18 L432.3,341.71 L432.7,341.21 L433.1,340.66 L433.5,340.08 L433.9,339.45 L434.3,338.77 L434.7,338.04 L435.1,337.25 L435.5,336.41 L435.9,335.51 L436.3,334.54 L436.7,333.51 L437.1,332.41 L437.5,331.23 L437.9,329.97 L438.3,328.64 L438.7,327.22 L439.1,325.72 L439.5,324.13 L439.9,322.45 L440.3,320.68 L440.7,318.82 L441.1,316.86 L441.5,314.8 L441.9,312.65 L442.3,310.4 L442.7,308.06 L443.1,305.62 L443.5,303.09 L443.9,300.47 L444.3,297.77 L444.7,294.97 L445.1,292.1 L445.5,289.16 L445.9,286.14 L446.3,283.06 L446.7,279.93 L447.1,276.76 L447.5,273.55 L447.9,270.31 L448.3,267.06 L448.7,263.8 L449.1,260.56 L449.5,257.35 L449.9,254.18 L450.3,251.06 L450.7,248.02 L451.1,245.07 L451.5,242.23 L451.9,239.53 L452.3,236.97 L452.7,234.59 L453.1,232.4 L453.5,230.41 L453.9,228.66 L454.3,227.15 L454.7,225.9 L455.1,224.93 L455.5,224.24 L455.9,223.84 L456.3,223.74 L456.7,223.94 L457.1,224.42 L457.5,225.18 L457.9,226.22 L458.3,227.53 L458.7,229.08 L459.1,230.88 L459.5,232.89 L459.9,235.11 L460.3,237.51 L460.7,240.08 L461.1,242.8 L461.5,245.65 L461.9,248.61 L462.3,251.66 L462.7,254.78 L463.1,257.96 L463.5,261.19 L463.9,264.44 L464.3,267.71 L464.7,270.98 L465.1,274.23 L465.5,277.47 L465.9,280.67 L466.3,283.83 L466.7,286.94 L467.1,290 L467.5,292.99 L467.9,295.91 L468.3,298.76 L468.7,301.52 L469.1,304.21 L469.5,306.81 L469.9,309.32 L470.3,311.74 L470.7,314.07 L471.1,316.31 L471.5,318.45 L471.9,320.5 L472.3,322.46 L472.7,324.33 L473.1,326.11 L473.5,327.8 L473.9,329.4 L474.3,330.92 L474.7,332.35 L475.1,333.71 L475.5,334.99 L475.9,336.2 L476.3,337.33 L476.7,338.4 L477.1,339.4 L477.5,340.34 L477.9,341.22 L478.3,342.05 L478.7,342.82 L479.1,343.55 L479.5,344.23 L479.9,344.86 L480.3,345.45 L480.7,346.01 L481.1,346.53 L481.5,347.01 L481.9,347.47 L482.3,347.89 L482.7,348.29 L483.1,348.67 L483.5,349.02 L483.9,349.35 L484.3,349.66 L484.7,349.95 L485.1,350.23 L485.5,350.49 L485.9,350.74 L486.3,350.97 L486.7,351.19 L487.1,351.41 L487.5,351.61 L487.9,351.8 L488.3,351.99 L488.7,352.16 L489.1,352.33 L489.5,352.5 L489.9,352.65 L490.3,352.81 L490.7,352.95 L491.1,353.09 L491.5,353.23 L491.9,353.36 L492.3,353.49 L492.7,353.62 L493.1,353.74 L493.5,353.86 L493.9,353.98 L494.3,354.09 L494.7,354.2 L495.1,354.31 L495.5,354.41 L495.9,354.52 L496.3,354.62 L496.7,354.72 L497.1,354.81 L497.5,354.91 L497.9,355 L498.3,355.09 L498.7,355.18 L499.1,355.27 L499.5,355.36 L499.9,355.44" fill="none" stroke="#ff3030" stroke-width="1.0" stroke-linejoin="round"/>
<path d="M444.7,351.92 L445.1,351.93 L445.5,351.93 L445.9,351.94 L446.3,351.94 L446.7,351.95 L447.1,351.95 L447.5,351.96 L447.9,351.96 L448.3,351.97 L448.7,351.98 L449.1,351.99 L449.5,352 L449.9,352.01 L450.3,352.02 L450.7,352.04 L451.1,352.05 L451.5,352.06 L451.9,352.08 L452.3,352.09 L452.7,352.11 L453.1,352.12 L453.5,352.14 L453.9,352.15 L454.3,352.16 L454.7,352.17 L455.1,352.17 L455.5,352.18 L455.9,352.18 L456.3,352.17 L456.7,352.16 L457.1,352.14 L457.5,352.11 L457.9,352.07 L458.3,352.01 L458.7,351.94 L459.1,351.85 L459.5,351.74 L459.9,351.61 L460.3,351.44 L460.7,351.23 L461.1,350.98 L461.5,350.69 L461.9,350.34 L462.3,349.92 L462.7,349.44 L463.1,348.87 L463.5,348.21 L463.9,347.45 L464.3,346.58 L464.7,345.58 L465.1,344.44 L465.5,343.16 L465.9,341.72 L466.3,340.11 L466.7,338.32 L467.1,336.34 L467.5,334.16 L467.9,331.78 L468.3,329.18 L468.7,326.38 L469.1,323.37 L469.5,320.15 L469.9,316.74 L470.3,313.13 L470.7,309.34 L471.1,305.39 L471.5,301.31 L471.9,297.12 L472.3,292.84 L472.7,288.5 L473.1,284.16 L473.5,279.83 L473.9,275.58 L474.3,271.43 L474.7,267.44 L475.1,263.66 L475.5,260.12 L475.9,256.89 L476.3,254 L476.7,251.5 L477.1,249.43 L477.5,247.83 L477.9,246.71 L478.3,246.1 L478.7,246.01 L479.1,246.44 L479.5,247.37 L479.9,248.79 L480.3,250.67 L480.7,252.99 L481.1,255.71 L481.5,258.79 L481.9,262.19 L482.3,265.86 L482.7,269.76 L483.1,273.84 L483.5,278.05 L483.9,282.37 L484.3,286.73 L484.7,291.1 L485.1,295.45 L485.5,299.74 L485.9,303.93 L486.3,308.02 L486.7,311.96 L487.1,315.75 L487.5,319.35 L487.9,322.78 L488.3,326 L488.7,329.03 L489.1,331.84 L489.5,334.46 L489.9,336.87 L490.3,339.08 L490.7,341.11 L491.1,342.95 L491.5,344.61 L491.9,346.11 L492.3,347.46 L492.7,348.66 L493.1,349.73 L493.5,350.69 L493.9,351.53 L494.3,352.27 L494.7,352.93 L495.1,353.5 L495.5,354 L495.9,354.45 L496.3,354.83 L496.7,355.17 L497.1,355.47 L497.5,355.73 L497.9,355.96 L498.3,356.16 L498.7,356.34 L499.1,356.51 L499.5,356.65 L499.9,356.78" fill="none" stroke="#3535ff" stroke-width="1.0" stroke-linejoin="round"/>
<path d="M293.6,341.31 L294.4,341.86 L295.2,342.59 L296,343.67 L296.8,342.08 L297.6,340.77 L298.4,342.52 L299.2,343.03 L300,342.95 L300.8,343.68 L301.6,342.84 L302.4,343.99 L303.2,343.67 L304,343.48 L304.8,343.55 L305.6,343.87 L306.4,344.14 L307.2,343.67 L308,343.7 L308.8,343.89 L309.6,343.93 L310.4,344.68 L311.2,344.66 L312,343.59 L312.8,344.25 L313.6,344.01 L314.4,344.57 L315.2,344.56 L316,344.49 L316.8,345.24 L317.6,344.8 L318.4,345.19 L319.2,345.06 L320,344.4 L320.8,346.58 L321.6,345.58 L322.4,344.2 L323.2,345.2 L324,345.5 L324.8,345.59 L325.6,344.62 L326.4,345.73 L327.2,346.9 L328,346.12 L328.8,346.56 L329.6,346.67 L330.4,346.33 L331.2,346.42 L332,345.95 L332.8,346.08 L333.6,346.53 L334.4,345.73 L335.2,348.26 L336,347.66 L336.8,347.33 L337.6,347.1 L338.4,346.62 L339.2,346.65 L340,347.1 L340.8,346.72 L341.6,346.28 L342.4,347.17 L343.2,346.13 L344,347.68 L344.8,348.14 L345.6,348.47 L346.4,347 L347.2,347.88 L348,348.34 L348.8,348.4 L349.6,349.21 L350.4,348.09 L351.2,348.37 L352,349.19 L352.8,349.35 L353.6,350.17 L354.4,348.22 L355.2,349.3 L356,348.53 L356.8,350.57 L357.6,350.44 L358.4,351.15 L359.2,350 L360,350.47 L360.8,350.67 L361.6,349.53 L362.4,350.35 L363.2,350.79 L364,350.03 L364.8,350.53 L365.6,351.43 L366.4,352.19 L367.2,350.53 L368,351.29 L368.8,350.45 L369.6,349.96 L370.4,350.82 L371.2,351.65 L372,351.92 L372.8,351.25 L373.6,351.08 L374.4,351.43 L375.2,352.31 L376,352.42 L376.8,352.82 L377.6,351.84 L378.4,352.42 L379.2,351.66 L380,352.36 L380.8,352.3 L381.6,352.06 L382.4,351.61 L383.2,352.55 L384,350.22 L384.8,352.31 L385.6,351.34 L386.4,353.04 L387.2,352.3 L388,351.91 L388.8,352.3 L389.6,351.93 L390.4,352.77 L391.2,352.46 L392,353.37 L392.8,352.35 L393.6,351.74 L394.4,352.31 L395.2,352.47 L396,352.2 L396.8,352.31 L397.6,351.48 L398.4,352.76 L399.2,352.16 L400,352.12 L400.8,350.82 L401.6,351.56 L402.4,351.5 L403.2,351.17 L404,349.27 L404.8,350.87 L405.6,350.48 L406.4,350.93 L407.2,350.18 L408,350.21 L408.8,349.82 L409.6,349.45 L410.4,348.69 L411.2,349.14 L411.5,348.84 L411.9,348.8 L412.3,348.76 L412.7,348.72 L413.1,348.68 L413.5,348.63 L413.9,348.59 L414.3,348.54 L414.7,348.49 L415.1,348.44 L415.5,348.39 L415.9,348.33 L416.3,348.28 L416.7,348.22 L417.1,348.16 L417.5,348.1 L417.9,348.04 L418.3,347.98 L418.7,347.91 L419.1,347.84 L419.5,347.77 L419.9,347.69 L420.3,347.62 L420.7,347.54 L421.1,347.45 L421.5,347.36 L421.9,347.27 L422.3,347.18 L422.7,347.08 L423.1,346.97 L423.5,346.86 L423.9,346.74 L424.3,346.62 L424.7,346.49 L425.1,346.35 L425.5,346.21 L425.9,346.05 L426.3,345.89 L426.7,345.71 L427.1,345.53 L427.5,345.33 L427.9,345.12 L428.3,344.89 L428.7,344.64 L429.1,344.38 L429.5,344.1 L429.9,343.8 L430.3,343.47 L430.7,343.12 L431.1,342.74 L431.5,342.33 L431.9,341.89 L432.3,341.42 L432.7,340.91 L433.1,340.36 L433.5,339.77 L433.9,339.13 L434.3,338.44 L434.7,337.71 L435.1,336.92 L435.5,336.07 L435.9,335.16 L436.3,334.19 L436.7,333.15 L437.1,332.04 L437.5,330.86 L437.9,329.59 L438.3,328.25 L438.7,326.83 L439.1,325.32 L439.5,323.72 L439.9,322.04 L440.3,320.26 L440.7,318.38 L441.1,316.41 L441.5,314.35 L441.9,312.19 L442.3,309.93 L442.7,307.58 L443.1,305.13 L443.5,302.59 L443.9,299.96 L444.3,297.24 L444.7,294.43 L445.1,291.55 L445.5,288.59 L445.9,285.56 L446.3,282.47 L446.7,279.33 L447.1,276.14 L447.5,272.91 L447.9,269.65 L448.3,266.39 L448.7,263.12 L449.1,259.86 L449.5,256.62 L449.9,253.43 L450.3,250.3 L450.7,247.23 L451.1,244.26 L451.5,241.4 L451.9,238.68 L452.3,236.09 L452.7,233.68 L453.1,231.46 L453.5,229.45 L453.9,227.66 L454.3,226.11 L454.7,224.83 L455.1,223.81 L455.5,223.07 L455.9,222.62 L456.3,222.47 L456.7,222.6 L457.1,223.01 L457.5,223.69 L457.9,224.64 L458.3,225.84 L458.7,227.27 L459.1,228.92 L459.5,230.77 L459.9,232.79 L460.3,234.98 L460.7,237.29 L461.1,239.7 L461.5,242.2 L461.9,244.75 L462.3,247.34 L462.7,249.92 L463.1,252.48 L463.5,255 L463.9,257.44 L464.3,259.78 L464.7,262 L465.1,264.07 L465.5,265.97 L465.9,267.69 L466.3,269.19 L466.7,270.46 L467.1,271.49 L467.5,272.25 L467.9,272.74 L468.3,272.95 L468.7,272.88 L469.1,272.5 L469.5,271.84 L469.9,270.88 L470.3,269.65 L470.7,268.15 L471.1,266.39 L471.5,264.4 L471.9,262.21 L472.3,259.84 L472.7,257.33 L473.1,254.72 L473.5,252.04 L473.9,249.33 L474.3,246.66 L474.7,244.06 L475.1,241.58 L475.5,239.29 L475.9,237.21 L476.3,235.41 L476.7,233.93 L477.1,232.82 L477.5,232.11 L477.9,231.82 L478.3,232 L478.7,232.64 L479.1,233.75 L479.5,235.31 L479.9,237.32 L480.3,239.75 L480.7,242.58 L481.1,245.77 L481.5,249.29 L481.9,253.1 L482.3,257.16 L482.7,261.41 L483.1,265.83 L483.5,270.35 L483.9,274.95 L484.3,279.58 L484.7,284.21 L485.1,288.79 L485.5,293.3 L485.9,297.7 L486.3,301.98 L486.7,306.11 L487.1,310.06 L487.5,313.83 L487.9,317.41 L488.3,320.78 L488.7,323.94 L489.1,326.89 L489.5,329.63 L489.9,332.16 L490.3,334.48 L490.7,336.61 L491.1,338.55 L491.5,340.32 L491.9,341.91 L492.3,343.35 L492.7,344.64 L493.1,345.8 L493.5,346.83 L493.9,347.75 L494.3,348.57 L494.7,349.3 L495.1,349.95 L495.5,350.52 L495.9,351.03 L496.3,351.48 L496.7,351.88 L497.1,352.24 L497.5,352.56 L497.9,352.85 L498.3,353.11 L498.7,353.34 L499.1,353.55 L499.5,353.75 L499.9,353.93 L500.4,357.32 L501.2,358.51 L502,358.64 L502.8,358.04 L503.6,358.83 L504.4,358.24 L505.2,358.39 L506,358.41 L506.8,358.31 L507.6,358.81 L508.4,358.69 L509.2,358.3 L510,360.81 L510.8,359.35 L511.6,358.84 L512.4,359.34 L513.2,359.86 L514,359.61 L514.8,359.13 L515.6,359.15 L516.4,359.45 L517.2,359.29 L518,359.34 L518.8,360.12 L519.6,359.5 L520.4,359.85 L521.2,360.54 L522,359.56 L522.8,359.88 L523.6,359.38" fill="none" stroke="#3a9a3a" stroke-width="1.1" stroke-linejoin="round"/>
<path d="M411.5,348.56 L411.9,348.67 L412.3,349.15 L412.7,348.64 L413.1,348.53 L413.5,348.97 L413.9,348.7 L414.3,348.55 L414.7,348.34 L415.1,348.05 L415.5,348.09 L415.9,348.21 L416.3,348.22 L416.7,348.31 L417.1,348.3 L417.5,348.16 L417.9,348.1 L418.3,347.73 L418.7,347.37 L419.1,347.71 L419.5,347.53 L419.9,347.53 L420.3,347.55 L420.7,347.23 L421.1,347.17 L421.5,347.34 L421.9,347.3 L422.3,347.01 L422.7,347.2 L423.1,346.92 L423.5,346.61 L423.9,346.75 L424.3,347.09 L424.7,346.32 L425.1,346.65 L425.5,346.55 L425.9,346.43 L426.3,345.68 L426.7,346.22 L427.1,345.56 L427.5,345.27 L427.9,345.06 L428.3,345.04 L428.7,344.66 L429.1,344.34 L429.5,344.42 L429.9,343.61 L430.3,343.21 L430.7,343.32 L431.1,342.92 L431.5,342.6 L431.9,341.62 L432.3,341.69 L432.7,341.03 L433.1,340.8 L433.5,339.45 L433.9,339.18 L434.3,338.38 L434.7,337.31 L435.1,336.74 L435.5,336.35 L435.9,335.05 L436.3,334.01 L436.7,333.37 L437.1,332.29 L437.5,331.1 L437.9,329.4 L438.3,328.24 L438.7,327.09 L439.1,325.16 L439.5,323.54 L439.9,322.24 L440.3,320.65 L440.7,318.09 L441.1,315.76 L441.5,313.99 L441.9,311.93 L442.3,309.9 L442.7,307.73 L443.1,305.09 L443.5,302.41 L443.9,299.99 L444.3,297 L444.7,294.42 L445.1,291.39 L445.5,289.26 L445.9,285.77 L446.3,282.26 L446.7,279.08 L447.1,276.03 L447.5,272.5 L447.9,269.47 L448.3,266.2 L448.7,263.34 L449.1,259.75 L449.5,256.43 L449.9,253.1 L450.3,250 L450.7,247.22 L451.1,244.21 L451.5,241.69 L451.9,238.52 L452.3,236.36 L452.7,233.75 L453.1,231.46 L453.5,228.94 L453.9,227.34 L454.3,226.3 L454.7,225.17 L455.1,223.86 L455.5,223.26 L455.9,222.52 L456.3,222.38 L456.7,222.43 L457.1,223.25 L457.5,223.78 L457.9,224.58 L458.3,225.75 L458.7,227.41 L459.1,229 L459.5,230.56 L459.9,233.22 L460.3,235.04 L460.7,237.29 L461.1,240.07 L461.5,242.46 L461.9,244.73 L462.3,247.47 L462.7,249.65 L463.1,252.32 L463.5,254.43 L463.9,257.74 L464.3,259.3 L464.7,262.17 L465.1,263.86 L465.5,265.73 L465.9,267.64 L466.3,269.25 L466.7,270.61 L467.1,271.93 L467.5,272.34 L467.9,272.97 L468.3,272.81 L468.7,273.05 L469.1,272.54 L469.5,271.72 L469.9,270.86 L470.3,269.63 L470.7,268.19 L471.1,266.49 L471.5,264.28 L471.9,262.03 L472.3,260.03 L472.7,256.91 L473.1,254.56 L473.5,252.42 L473.9,248.66 L474.3,246.49 L474.7,244.23 L475.1,241.17 L475.5,239.93 L475.9,236.56 L476.3,235.77 L476.7,234.32 L477.1,233.05 L477.5,232.05 L477.9,231.91 L478.3,231.77 L478.7,232.84 L479.1,233.47 L479.5,235.24 L479.9,237.57 L480.3,239.47 L480.7,242.49 L481.1,245.81 L481.5,248.96 L481.9,253.4 L482.3,257.24 L482.7,261.03 L483.1,265.81 L483.5,270.16 L483.9,274.79 L484.3,279.6 L484.7,284.03 L485.1,289.03 L485.5,293.12 L485.9,297.95 L486.3,301.97 L486.7,306.32 L487.1,309.93 L487.5,313.71 L487.9,317.12 L488.3,320.92 L488.7,324.17 L489.1,327.42 L489.5,329.95 L489.9,332.22 L490.3,334.43 L490.7,336.71 L491.1,338.55 L491.5,340.68 L491.9,342.15 L492.3,343.14 L492.7,344.47 L493.1,346.14 L493.5,346.91 L493.9,347.7 L494.3,348.87 L494.7,349.2 L495.1,349.88 L495.5,350.4 L495.9,350.54 L496.3,351.69 L496.7,351.58 L497.1,352.1 L497.5,352.37 L497.9,353.03 L498.3,353.09 L498.7,353.34 L499.1,353.13 L499.5,353.73 L499.9,353.56" fill="none" stroke="#1a3a1a" stroke-width="0.45" stroke-linejoin="round" opacity="0.45"/>
<path d="M480.7,252.99 L481.1,255.71 L481.5,258.79 L481.9,262.19 L482.3,265.86 L482.7,269.76 L483.1,273.84 L483.5,278.05 L483.9,282.37 L484.3,286.73 L484.7,291.1 L485.1,295.45 L485.5,299.74 L485.9,303.93 L486.3,308.02 L486.7,311.96 L487.1,315.75 L487.5,319.35 L487.9,322.78 L488.3,326 L488.7,329.03 L489.1,331.84 L489.5,334.46 L489.9,336.87 L490.3,339.08 L490.7,341.11 L491.1,342.95 L491.5,344.61 L491.9,346.11 L492.3,347.46 L492.7,348.66 L493.1,349.73 L493.5,350.69 L493.9,351.53 L494.3,352.27 L494.7,352.93 L495.1,353.5 L495.5,354 L495.9,354.45 L496.3,354.83 L496.7,355.17 L497.1,355.47 L497.5,355.73 L497.9,355.96 L498.3,356.16 L498.7,356.34 L499.1,356.51 L499.5,356.65 L499.9,356.78" fill="none" stroke="#1e2a8a" stroke-width="0.8" stroke-linejoin="round" opacity="0.85"/>
<line x1="293.4" y1="206.8" x2="524.1" y2="206.8" stroke="#333" stroke-width="1.1" stroke-linecap="butt"/>
<line x1="524.1" y1="206.8" x2="524.1" y2="379" stroke="#333" stroke-width="1.1" stroke-linecap="butt"/>
<line x1="293.4" y1="206.3" x2="293.4" y2="379.5" stroke="#222" stroke-width="1.1" stroke-linecap="butt"/>
<line x1="292.9" y1="379" x2="524.6" y2="379" stroke="#222" stroke-width="1.1" stroke-linecap="butt"/>
<line x1="496.5" y1="379" x2="496.5" y2="375.8" stroke="#222" stroke-width="0.9" stroke-linecap="butt"/>
<line x1="461.82" y1="379" x2="461.82" y2="375.8" stroke="#222" stroke-width="0.9" stroke-linecap="butt"/>
<line x1="427.14" y1="379" x2="427.14" y2="375.8" stroke="#222" stroke-width="0.9" stroke-linecap="butt"/>
<line x1="392.46" y1="379" x2="392.46" y2="375.8" stroke="#222" stroke-width="0.9" stroke-linecap="butt"/>
<line x1="357.78" y1="379" x2="357.78" y2="375.8" stroke="#222" stroke-width="0.9" stroke-linecap="butt"/>
<line x1="323.1" y1="379" x2="323.1" y2="375.8" stroke="#222" stroke-width="0.9" stroke-linecap="butt"/>
<line x1="513.84" y1="379" x2="513.84" y2="377" stroke="#222" stroke-width="0.9" stroke-linecap="butt"/>
<line x1="479.16" y1="379" x2="479.16" y2="377" stroke="#222" stroke-width="0.9" stroke-linecap="butt"/>
<line x1="444.48" y1="379" x2="444.48" y2="377" stroke="#222" stroke-width="0.9" stroke-linecap="butt"/>
<line x1="409.8" y1="379" x2="409.8" y2="377" stroke="#222" stroke-width="0.9" stroke-linecap="butt"/>
<line x1="375.12" y1="379" x2="375.12" y2="377" stroke="#222" stroke-width="0.9" stroke-linecap="butt"/>
<line x1="340.44" y1="379" x2="340.44" y2="377" stroke="#222" stroke-width="0.9" stroke-linecap="butt"/>
<line x1="305.76" y1="379" x2="305.76" y2="377" stroke="#222" stroke-width="0.9" stroke-linecap="butt"/>
<text x="496.5" y="388" font-size="6.9" text-anchor="middle" fill="#222">528</text>
<text x="461.82" y="388" font-size="6.9" text-anchor="middle" fill="#222">531</text>
<text x="427.14" y="388" font-size="6.9" text-anchor="middle" fill="#222">534</text>
<text x="392.46" y="388" font-size="6.9" text-anchor="middle" fill="#222">537</text>
<text x="357.78" y="388" font-size="6.9" text-anchor="middle" fill="#222">540</text>
<text x="323.1" y="388" font-size="6.9" text-anchor="middle" fill="#222">543</text>
<text x="373.2" y="401.2" font-size="9.2" textLength="72.2" lengthAdjust="spacingAndGlyphs" fill="#222">Binding Energy(eV)</text>
<text transform="translate(278,323.9) rotate(-90)" font-size="7.8" textLength="51.5" lengthAdjust="spacingAndGlyphs" fill="#222">Intensity (a.u.)</text>
<text x="264.4" y="226.9" font-size="20" stroke="#000" stroke-width="0.4" textLength="25.6" lengthAdjust="spacingAndGlyphs" fill="#000">(d)</text>
<text x="299.6" y="228.6" font-size="12.2" stroke="#000" stroke-width="0.28" textLength="24.6" lengthAdjust="spacingAndGlyphs" fill="#000">O 1s</text>
<text x="424.8" y="217.7" font-size="10" stroke="#000" stroke-width="0.28" textLength="38.2" lengthAdjust="spacingAndGlyphs" fill="#000">531.4 eV</text>
<text x="481.7" y="239.6" font-size="10" stroke="#000" stroke-width="0.28" textLength="38.2" lengthAdjust="spacingAndGlyphs" fill="#000">529.6 eV</text>
<line x1="444.2" y1="218.2" x2="451.28" y2="224.47" stroke="#000" stroke-width="0.6" stroke-linecap="butt"/>
<path d="M453,226 L450.17,224.97 L451.63,223.32 Z" fill="#000"/>
<line x1="489.6" y1="240.8" x2="483.03" y2="245.81" stroke="#000" stroke-width="0.6" stroke-linecap="butt"/>
<path d="M481.2,247.2 L482.76,244.63 L484.09,246.38 Z" fill="#000"/>
</svg></body></html>
